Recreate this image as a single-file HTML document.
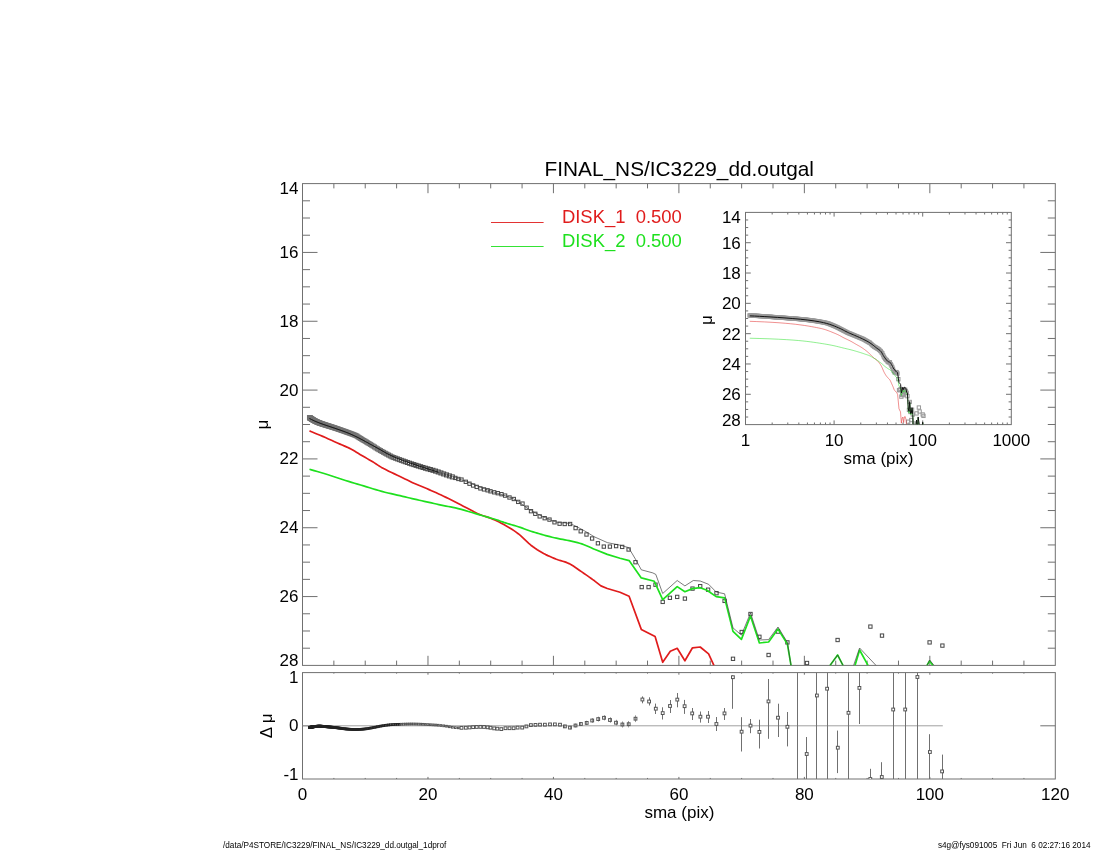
<!DOCTYPE html>
<html><head><meta charset="utf-8"><style>
html,body{margin:0;padding:0;background:#fff;width:1100px;height:850px;overflow:hidden}
svg{position:absolute;left:0;top:0;font-family:"Liberation Sans", sans-serif;will-change:transform}
</style></head><body>
<svg width="1100" height="850" viewBox="0 0 1100 850">
<rect width="1100" height="850" fill="#fff"/>
<rect x="302.5" y="183.6" width="752.80" height="481.80" fill="none" stroke="#707070" stroke-width="1"/>
<line x1="333.87" y1="665.40" x2="333.87" y2="660.60" stroke="#707070" stroke-width="1"/>
<line x1="333.87" y1="183.60" x2="333.87" y2="188.40" stroke="#707070" stroke-width="1"/>
<line x1="365.23" y1="665.40" x2="365.23" y2="660.60" stroke="#707070" stroke-width="1"/>
<line x1="365.23" y1="183.60" x2="365.23" y2="188.40" stroke="#707070" stroke-width="1"/>
<line x1="396.60" y1="665.40" x2="396.60" y2="660.60" stroke="#707070" stroke-width="1"/>
<line x1="396.60" y1="183.60" x2="396.60" y2="188.40" stroke="#707070" stroke-width="1"/>
<line x1="427.97" y1="665.40" x2="427.97" y2="655.80" stroke="#707070" stroke-width="1"/>
<line x1="427.97" y1="183.60" x2="427.97" y2="193.20" stroke="#707070" stroke-width="1"/>
<line x1="459.33" y1="665.40" x2="459.33" y2="660.60" stroke="#707070" stroke-width="1"/>
<line x1="459.33" y1="183.60" x2="459.33" y2="188.40" stroke="#707070" stroke-width="1"/>
<line x1="490.70" y1="665.40" x2="490.70" y2="660.60" stroke="#707070" stroke-width="1"/>
<line x1="490.70" y1="183.60" x2="490.70" y2="188.40" stroke="#707070" stroke-width="1"/>
<line x1="522.07" y1="665.40" x2="522.07" y2="660.60" stroke="#707070" stroke-width="1"/>
<line x1="522.07" y1="183.60" x2="522.07" y2="188.40" stroke="#707070" stroke-width="1"/>
<line x1="553.43" y1="665.40" x2="553.43" y2="655.80" stroke="#707070" stroke-width="1"/>
<line x1="553.43" y1="183.60" x2="553.43" y2="193.20" stroke="#707070" stroke-width="1"/>
<line x1="584.80" y1="665.40" x2="584.80" y2="660.60" stroke="#707070" stroke-width="1"/>
<line x1="584.80" y1="183.60" x2="584.80" y2="188.40" stroke="#707070" stroke-width="1"/>
<line x1="616.17" y1="665.40" x2="616.17" y2="660.60" stroke="#707070" stroke-width="1"/>
<line x1="616.17" y1="183.60" x2="616.17" y2="188.40" stroke="#707070" stroke-width="1"/>
<line x1="647.53" y1="665.40" x2="647.53" y2="660.60" stroke="#707070" stroke-width="1"/>
<line x1="647.53" y1="183.60" x2="647.53" y2="188.40" stroke="#707070" stroke-width="1"/>
<line x1="678.90" y1="665.40" x2="678.90" y2="655.80" stroke="#707070" stroke-width="1"/>
<line x1="678.90" y1="183.60" x2="678.90" y2="193.20" stroke="#707070" stroke-width="1"/>
<line x1="710.27" y1="665.40" x2="710.27" y2="660.60" stroke="#707070" stroke-width="1"/>
<line x1="710.27" y1="183.60" x2="710.27" y2="188.40" stroke="#707070" stroke-width="1"/>
<line x1="741.63" y1="665.40" x2="741.63" y2="660.60" stroke="#707070" stroke-width="1"/>
<line x1="741.63" y1="183.60" x2="741.63" y2="188.40" stroke="#707070" stroke-width="1"/>
<line x1="773.00" y1="665.40" x2="773.00" y2="660.60" stroke="#707070" stroke-width="1"/>
<line x1="773.00" y1="183.60" x2="773.00" y2="188.40" stroke="#707070" stroke-width="1"/>
<line x1="804.37" y1="665.40" x2="804.37" y2="655.80" stroke="#707070" stroke-width="1"/>
<line x1="804.37" y1="183.60" x2="804.37" y2="193.20" stroke="#707070" stroke-width="1"/>
<line x1="835.73" y1="665.40" x2="835.73" y2="660.60" stroke="#707070" stroke-width="1"/>
<line x1="835.73" y1="183.60" x2="835.73" y2="188.40" stroke="#707070" stroke-width="1"/>
<line x1="867.10" y1="665.40" x2="867.10" y2="660.60" stroke="#707070" stroke-width="1"/>
<line x1="867.10" y1="183.60" x2="867.10" y2="188.40" stroke="#707070" stroke-width="1"/>
<line x1="898.47" y1="665.40" x2="898.47" y2="660.60" stroke="#707070" stroke-width="1"/>
<line x1="898.47" y1="183.60" x2="898.47" y2="188.40" stroke="#707070" stroke-width="1"/>
<line x1="929.83" y1="665.40" x2="929.83" y2="655.80" stroke="#707070" stroke-width="1"/>
<line x1="929.83" y1="183.60" x2="929.83" y2="193.20" stroke="#707070" stroke-width="1"/>
<line x1="961.20" y1="665.40" x2="961.20" y2="660.60" stroke="#707070" stroke-width="1"/>
<line x1="961.20" y1="183.60" x2="961.20" y2="188.40" stroke="#707070" stroke-width="1"/>
<line x1="992.57" y1="665.40" x2="992.57" y2="660.60" stroke="#707070" stroke-width="1"/>
<line x1="992.57" y1="183.60" x2="992.57" y2="188.40" stroke="#707070" stroke-width="1"/>
<line x1="1023.93" y1="665.40" x2="1023.93" y2="660.60" stroke="#707070" stroke-width="1"/>
<line x1="1023.93" y1="183.60" x2="1023.93" y2="188.40" stroke="#707070" stroke-width="1"/>
<line x1="302.50" y1="200.81" x2="310.00" y2="200.81" stroke="#707070" stroke-width="1"/>
<line x1="1055.30" y1="200.81" x2="1047.80" y2="200.81" stroke="#707070" stroke-width="1"/>
<line x1="302.50" y1="218.01" x2="310.00" y2="218.01" stroke="#707070" stroke-width="1"/>
<line x1="1055.30" y1="218.01" x2="1047.80" y2="218.01" stroke="#707070" stroke-width="1"/>
<line x1="302.50" y1="235.22" x2="310.00" y2="235.22" stroke="#707070" stroke-width="1"/>
<line x1="1055.30" y1="235.22" x2="1047.80" y2="235.22" stroke="#707070" stroke-width="1"/>
<line x1="302.50" y1="252.43" x2="317.50" y2="252.43" stroke="#707070" stroke-width="1"/>
<line x1="1055.30" y1="252.43" x2="1040.30" y2="252.43" stroke="#707070" stroke-width="1"/>
<line x1="302.50" y1="269.64" x2="310.00" y2="269.64" stroke="#707070" stroke-width="1"/>
<line x1="1055.30" y1="269.64" x2="1047.80" y2="269.64" stroke="#707070" stroke-width="1"/>
<line x1="302.50" y1="286.84" x2="310.00" y2="286.84" stroke="#707070" stroke-width="1"/>
<line x1="1055.30" y1="286.84" x2="1047.80" y2="286.84" stroke="#707070" stroke-width="1"/>
<line x1="302.50" y1="304.05" x2="310.00" y2="304.05" stroke="#707070" stroke-width="1"/>
<line x1="1055.30" y1="304.05" x2="1047.80" y2="304.05" stroke="#707070" stroke-width="1"/>
<line x1="302.50" y1="321.26" x2="317.50" y2="321.26" stroke="#707070" stroke-width="1"/>
<line x1="1055.30" y1="321.26" x2="1040.30" y2="321.26" stroke="#707070" stroke-width="1"/>
<line x1="302.50" y1="338.46" x2="310.00" y2="338.46" stroke="#707070" stroke-width="1"/>
<line x1="1055.30" y1="338.46" x2="1047.80" y2="338.46" stroke="#707070" stroke-width="1"/>
<line x1="302.50" y1="355.67" x2="310.00" y2="355.67" stroke="#707070" stroke-width="1"/>
<line x1="1055.30" y1="355.67" x2="1047.80" y2="355.67" stroke="#707070" stroke-width="1"/>
<line x1="302.50" y1="372.88" x2="310.00" y2="372.88" stroke="#707070" stroke-width="1"/>
<line x1="1055.30" y1="372.88" x2="1047.80" y2="372.88" stroke="#707070" stroke-width="1"/>
<line x1="302.50" y1="390.09" x2="317.50" y2="390.09" stroke="#707070" stroke-width="1"/>
<line x1="1055.30" y1="390.09" x2="1040.30" y2="390.09" stroke="#707070" stroke-width="1"/>
<line x1="302.50" y1="407.29" x2="310.00" y2="407.29" stroke="#707070" stroke-width="1"/>
<line x1="1055.30" y1="407.29" x2="1047.80" y2="407.29" stroke="#707070" stroke-width="1"/>
<line x1="302.50" y1="424.50" x2="310.00" y2="424.50" stroke="#707070" stroke-width="1"/>
<line x1="1055.30" y1="424.50" x2="1047.80" y2="424.50" stroke="#707070" stroke-width="1"/>
<line x1="302.50" y1="441.71" x2="310.00" y2="441.71" stroke="#707070" stroke-width="1"/>
<line x1="1055.30" y1="441.71" x2="1047.80" y2="441.71" stroke="#707070" stroke-width="1"/>
<line x1="302.50" y1="458.91" x2="317.50" y2="458.91" stroke="#707070" stroke-width="1"/>
<line x1="1055.30" y1="458.91" x2="1040.30" y2="458.91" stroke="#707070" stroke-width="1"/>
<line x1="302.50" y1="476.12" x2="310.00" y2="476.12" stroke="#707070" stroke-width="1"/>
<line x1="1055.30" y1="476.12" x2="1047.80" y2="476.12" stroke="#707070" stroke-width="1"/>
<line x1="302.50" y1="493.33" x2="310.00" y2="493.33" stroke="#707070" stroke-width="1"/>
<line x1="1055.30" y1="493.33" x2="1047.80" y2="493.33" stroke="#707070" stroke-width="1"/>
<line x1="302.50" y1="510.54" x2="310.00" y2="510.54" stroke="#707070" stroke-width="1"/>
<line x1="1055.30" y1="510.54" x2="1047.80" y2="510.54" stroke="#707070" stroke-width="1"/>
<line x1="302.50" y1="527.74" x2="317.50" y2="527.74" stroke="#707070" stroke-width="1"/>
<line x1="1055.30" y1="527.74" x2="1040.30" y2="527.74" stroke="#707070" stroke-width="1"/>
<line x1="302.50" y1="544.95" x2="310.00" y2="544.95" stroke="#707070" stroke-width="1"/>
<line x1="1055.30" y1="544.95" x2="1047.80" y2="544.95" stroke="#707070" stroke-width="1"/>
<line x1="302.50" y1="562.16" x2="310.00" y2="562.16" stroke="#707070" stroke-width="1"/>
<line x1="1055.30" y1="562.16" x2="1047.80" y2="562.16" stroke="#707070" stroke-width="1"/>
<line x1="302.50" y1="579.36" x2="310.00" y2="579.36" stroke="#707070" stroke-width="1"/>
<line x1="1055.30" y1="579.36" x2="1047.80" y2="579.36" stroke="#707070" stroke-width="1"/>
<line x1="302.50" y1="596.57" x2="317.50" y2="596.57" stroke="#707070" stroke-width="1"/>
<line x1="1055.30" y1="596.57" x2="1040.30" y2="596.57" stroke="#707070" stroke-width="1"/>
<line x1="302.50" y1="613.78" x2="310.00" y2="613.78" stroke="#707070" stroke-width="1"/>
<line x1="1055.30" y1="613.78" x2="1047.80" y2="613.78" stroke="#707070" stroke-width="1"/>
<line x1="302.50" y1="630.99" x2="310.00" y2="630.99" stroke="#707070" stroke-width="1"/>
<line x1="1055.30" y1="630.99" x2="1047.80" y2="630.99" stroke="#707070" stroke-width="1"/>
<line x1="302.50" y1="648.19" x2="310.00" y2="648.19" stroke="#707070" stroke-width="1"/>
<line x1="1055.30" y1="648.19" x2="1047.80" y2="648.19" stroke="#707070" stroke-width="1"/>
<text x="298.50" y="193.90" font-size="17" text-anchor="end" fill="#000" >14</text>
<text x="298.50" y="257.93" font-size="17" text-anchor="end" fill="#000" >16</text>
<text x="298.50" y="326.76" font-size="17" text-anchor="end" fill="#000" >18</text>
<text x="298.50" y="395.59" font-size="17" text-anchor="end" fill="#000" >20</text>
<text x="298.50" y="464.41" font-size="17" text-anchor="end" fill="#000" >22</text>
<text x="298.50" y="533.24" font-size="17" text-anchor="end" fill="#000" >24</text>
<text x="298.50" y="602.07" font-size="17" text-anchor="end" fill="#000" >26</text>
<text x="298.50" y="665.90" font-size="17" text-anchor="end" fill="#000" >28</text>
<rect x="302.5" y="672.6" width="752.80" height="106.40" fill="none" stroke="#707070" stroke-width="1"/>
<line x1="333.87" y1="779.00" x2="333.87" y2="777.95" stroke="#707070" stroke-width="1"/>
<line x1="333.87" y1="672.60" x2="333.87" y2="673.65" stroke="#707070" stroke-width="1"/>
<line x1="365.23" y1="779.00" x2="365.23" y2="777.95" stroke="#707070" stroke-width="1"/>
<line x1="365.23" y1="672.60" x2="365.23" y2="673.65" stroke="#707070" stroke-width="1"/>
<line x1="396.60" y1="779.00" x2="396.60" y2="777.95" stroke="#707070" stroke-width="1"/>
<line x1="396.60" y1="672.60" x2="396.60" y2="673.65" stroke="#707070" stroke-width="1"/>
<line x1="427.97" y1="779.00" x2="427.97" y2="776.90" stroke="#707070" stroke-width="1"/>
<line x1="427.97" y1="672.60" x2="427.97" y2="674.70" stroke="#707070" stroke-width="1"/>
<line x1="459.33" y1="779.00" x2="459.33" y2="777.95" stroke="#707070" stroke-width="1"/>
<line x1="459.33" y1="672.60" x2="459.33" y2="673.65" stroke="#707070" stroke-width="1"/>
<line x1="490.70" y1="779.00" x2="490.70" y2="777.95" stroke="#707070" stroke-width="1"/>
<line x1="490.70" y1="672.60" x2="490.70" y2="673.65" stroke="#707070" stroke-width="1"/>
<line x1="522.07" y1="779.00" x2="522.07" y2="777.95" stroke="#707070" stroke-width="1"/>
<line x1="522.07" y1="672.60" x2="522.07" y2="673.65" stroke="#707070" stroke-width="1"/>
<line x1="553.43" y1="779.00" x2="553.43" y2="776.90" stroke="#707070" stroke-width="1"/>
<line x1="553.43" y1="672.60" x2="553.43" y2="674.70" stroke="#707070" stroke-width="1"/>
<line x1="584.80" y1="779.00" x2="584.80" y2="777.95" stroke="#707070" stroke-width="1"/>
<line x1="584.80" y1="672.60" x2="584.80" y2="673.65" stroke="#707070" stroke-width="1"/>
<line x1="616.17" y1="779.00" x2="616.17" y2="777.95" stroke="#707070" stroke-width="1"/>
<line x1="616.17" y1="672.60" x2="616.17" y2="673.65" stroke="#707070" stroke-width="1"/>
<line x1="647.53" y1="779.00" x2="647.53" y2="777.95" stroke="#707070" stroke-width="1"/>
<line x1="647.53" y1="672.60" x2="647.53" y2="673.65" stroke="#707070" stroke-width="1"/>
<line x1="678.90" y1="779.00" x2="678.90" y2="776.90" stroke="#707070" stroke-width="1"/>
<line x1="678.90" y1="672.60" x2="678.90" y2="674.70" stroke="#707070" stroke-width="1"/>
<line x1="710.27" y1="779.00" x2="710.27" y2="777.95" stroke="#707070" stroke-width="1"/>
<line x1="710.27" y1="672.60" x2="710.27" y2="673.65" stroke="#707070" stroke-width="1"/>
<line x1="741.63" y1="779.00" x2="741.63" y2="777.95" stroke="#707070" stroke-width="1"/>
<line x1="741.63" y1="672.60" x2="741.63" y2="673.65" stroke="#707070" stroke-width="1"/>
<line x1="773.00" y1="779.00" x2="773.00" y2="777.95" stroke="#707070" stroke-width="1"/>
<line x1="773.00" y1="672.60" x2="773.00" y2="673.65" stroke="#707070" stroke-width="1"/>
<line x1="804.37" y1="779.00" x2="804.37" y2="776.90" stroke="#707070" stroke-width="1"/>
<line x1="804.37" y1="672.60" x2="804.37" y2="674.70" stroke="#707070" stroke-width="1"/>
<line x1="835.73" y1="779.00" x2="835.73" y2="777.95" stroke="#707070" stroke-width="1"/>
<line x1="835.73" y1="672.60" x2="835.73" y2="673.65" stroke="#707070" stroke-width="1"/>
<line x1="867.10" y1="779.00" x2="867.10" y2="777.95" stroke="#707070" stroke-width="1"/>
<line x1="867.10" y1="672.60" x2="867.10" y2="673.65" stroke="#707070" stroke-width="1"/>
<line x1="898.47" y1="779.00" x2="898.47" y2="777.95" stroke="#707070" stroke-width="1"/>
<line x1="898.47" y1="672.60" x2="898.47" y2="673.65" stroke="#707070" stroke-width="1"/>
<line x1="929.83" y1="779.00" x2="929.83" y2="776.90" stroke="#707070" stroke-width="1"/>
<line x1="929.83" y1="672.60" x2="929.83" y2="674.70" stroke="#707070" stroke-width="1"/>
<line x1="961.20" y1="779.00" x2="961.20" y2="777.95" stroke="#707070" stroke-width="1"/>
<line x1="961.20" y1="672.60" x2="961.20" y2="673.65" stroke="#707070" stroke-width="1"/>
<line x1="992.57" y1="779.00" x2="992.57" y2="777.95" stroke="#707070" stroke-width="1"/>
<line x1="992.57" y1="672.60" x2="992.57" y2="673.65" stroke="#707070" stroke-width="1"/>
<line x1="1023.93" y1="779.00" x2="1023.93" y2="777.95" stroke="#707070" stroke-width="1"/>
<line x1="1023.93" y1="672.60" x2="1023.93" y2="673.65" stroke="#707070" stroke-width="1"/>
<line x1="302.50" y1="725.80" x2="317.50" y2="725.80" stroke="#707070" stroke-width="1"/>
<line x1="1055.30" y1="725.80" x2="1040.30" y2="725.80" stroke="#707070" stroke-width="1"/>
<text x="298.50" y="682.94" font-size="17" text-anchor="end" fill="#000" >1</text>
<text x="298.50" y="731.30" font-size="17" text-anchor="end" fill="#000" >0</text>
<text x="298.50" y="779.66" font-size="17" text-anchor="end" fill="#000" >-1</text>
<text x="302.50" y="800.20" font-size="17" text-anchor="middle" fill="#000" >0</text>
<text x="427.97" y="800.20" font-size="17" text-anchor="middle" fill="#000" >20</text>
<text x="553.43" y="800.20" font-size="17" text-anchor="middle" fill="#000" >40</text>
<text x="678.90" y="800.20" font-size="17" text-anchor="middle" fill="#000" >60</text>
<text x="804.37" y="800.20" font-size="17" text-anchor="middle" fill="#000" >80</text>
<text x="929.83" y="800.20" font-size="17" text-anchor="middle" fill="#000" >100</text>
<text x="1055.30" y="800.20" font-size="17" text-anchor="middle" fill="#000" >120</text>
<text x="679.40" y="818.30" font-size="17" text-anchor="middle" fill="#000" >sma (pix)</text>
<text x="679.30" y="175.50" font-size="20.8" text-anchor="middle" fill="#000" >FINAL_NS/IC3229_dd.outgal</text>
<text x="223" y="848" font-size="8.2" fill="#000" xml:space="preserve">/data/P4STORE/IC3229/FINAL_NS/IC3229_dd.outgal_1dprof</text>
<text x="1090.5" y="848" font-size="8.2" text-anchor="end" fill="#000" xml:space="preserve">s4g@fys091005  Fri Jun  6 02:27:16 2014</text>
<text x="267.6" y="424.5" font-size="17" text-anchor="middle" transform="rotate(-90 267.6 424.5)">&#956;</text>
<text x="272" y="725.8" font-size="17" text-anchor="middle" transform="rotate(-90 272 725.8)" xml:space="preserve">&#916; &#956;</text>
<line x1="491.00" y1="222.50" x2="543.60" y2="222.50" stroke="#e01c1c" stroke-width="0.9"/>
<line x1="491.00" y1="246.50" x2="543.60" y2="246.50" stroke="#1ee01e" stroke-width="0.9"/>
<text x="561.9" y="222.6" font-size="18.45" fill="#e01c1c" xml:space="preserve">DISK_1  0.500</text>
<text x="561.9" y="246.6" font-size="18.45" fill="#1ee01e" xml:space="preserve">DISK_2  0.500</text>
<rect x="745.5" y="212.4" width="265.80" height="212.20" fill="#fff" stroke="#707070" stroke-width="1"/>
<line x1="772.17" y1="424.60" x2="772.17" y2="422.50" stroke="#707070" stroke-width="1"/>
<line x1="772.17" y1="212.40" x2="772.17" y2="214.50" stroke="#707070" stroke-width="1"/>
<line x1="787.77" y1="424.60" x2="787.77" y2="422.50" stroke="#707070" stroke-width="1"/>
<line x1="787.77" y1="212.40" x2="787.77" y2="214.50" stroke="#707070" stroke-width="1"/>
<line x1="798.84" y1="424.60" x2="798.84" y2="422.50" stroke="#707070" stroke-width="1"/>
<line x1="798.84" y1="212.40" x2="798.84" y2="214.50" stroke="#707070" stroke-width="1"/>
<line x1="807.43" y1="424.60" x2="807.43" y2="422.50" stroke="#707070" stroke-width="1"/>
<line x1="807.43" y1="212.40" x2="807.43" y2="214.50" stroke="#707070" stroke-width="1"/>
<line x1="814.44" y1="424.60" x2="814.44" y2="422.50" stroke="#707070" stroke-width="1"/>
<line x1="814.44" y1="212.40" x2="814.44" y2="214.50" stroke="#707070" stroke-width="1"/>
<line x1="820.38" y1="424.60" x2="820.38" y2="422.50" stroke="#707070" stroke-width="1"/>
<line x1="820.38" y1="212.40" x2="820.38" y2="214.50" stroke="#707070" stroke-width="1"/>
<line x1="825.51" y1="424.60" x2="825.51" y2="422.50" stroke="#707070" stroke-width="1"/>
<line x1="825.51" y1="212.40" x2="825.51" y2="214.50" stroke="#707070" stroke-width="1"/>
<line x1="830.05" y1="424.60" x2="830.05" y2="422.50" stroke="#707070" stroke-width="1"/>
<line x1="830.05" y1="212.40" x2="830.05" y2="214.50" stroke="#707070" stroke-width="1"/>
<line x1="834.10" y1="424.60" x2="834.10" y2="420.40" stroke="#707070" stroke-width="1"/>
<line x1="834.10" y1="212.40" x2="834.10" y2="216.60" stroke="#707070" stroke-width="1"/>
<line x1="860.77" y1="424.60" x2="860.77" y2="422.50" stroke="#707070" stroke-width="1"/>
<line x1="860.77" y1="212.40" x2="860.77" y2="214.50" stroke="#707070" stroke-width="1"/>
<line x1="876.37" y1="424.60" x2="876.37" y2="422.50" stroke="#707070" stroke-width="1"/>
<line x1="876.37" y1="212.40" x2="876.37" y2="214.50" stroke="#707070" stroke-width="1"/>
<line x1="887.44" y1="424.60" x2="887.44" y2="422.50" stroke="#707070" stroke-width="1"/>
<line x1="887.44" y1="212.40" x2="887.44" y2="214.50" stroke="#707070" stroke-width="1"/>
<line x1="896.03" y1="424.60" x2="896.03" y2="422.50" stroke="#707070" stroke-width="1"/>
<line x1="896.03" y1="212.40" x2="896.03" y2="214.50" stroke="#707070" stroke-width="1"/>
<line x1="903.04" y1="424.60" x2="903.04" y2="422.50" stroke="#707070" stroke-width="1"/>
<line x1="903.04" y1="212.40" x2="903.04" y2="214.50" stroke="#707070" stroke-width="1"/>
<line x1="908.98" y1="424.60" x2="908.98" y2="422.50" stroke="#707070" stroke-width="1"/>
<line x1="908.98" y1="212.40" x2="908.98" y2="214.50" stroke="#707070" stroke-width="1"/>
<line x1="914.11" y1="424.60" x2="914.11" y2="422.50" stroke="#707070" stroke-width="1"/>
<line x1="914.11" y1="212.40" x2="914.11" y2="214.50" stroke="#707070" stroke-width="1"/>
<line x1="918.65" y1="424.60" x2="918.65" y2="422.50" stroke="#707070" stroke-width="1"/>
<line x1="918.65" y1="212.40" x2="918.65" y2="214.50" stroke="#707070" stroke-width="1"/>
<line x1="922.70" y1="424.60" x2="922.70" y2="420.40" stroke="#707070" stroke-width="1"/>
<line x1="922.70" y1="212.40" x2="922.70" y2="216.60" stroke="#707070" stroke-width="1"/>
<line x1="949.37" y1="424.60" x2="949.37" y2="422.50" stroke="#707070" stroke-width="1"/>
<line x1="949.37" y1="212.40" x2="949.37" y2="214.50" stroke="#707070" stroke-width="1"/>
<line x1="964.97" y1="424.60" x2="964.97" y2="422.50" stroke="#707070" stroke-width="1"/>
<line x1="964.97" y1="212.40" x2="964.97" y2="214.50" stroke="#707070" stroke-width="1"/>
<line x1="976.04" y1="424.60" x2="976.04" y2="422.50" stroke="#707070" stroke-width="1"/>
<line x1="976.04" y1="212.40" x2="976.04" y2="214.50" stroke="#707070" stroke-width="1"/>
<line x1="984.63" y1="424.60" x2="984.63" y2="422.50" stroke="#707070" stroke-width="1"/>
<line x1="984.63" y1="212.40" x2="984.63" y2="214.50" stroke="#707070" stroke-width="1"/>
<line x1="991.64" y1="424.60" x2="991.64" y2="422.50" stroke="#707070" stroke-width="1"/>
<line x1="991.64" y1="212.40" x2="991.64" y2="214.50" stroke="#707070" stroke-width="1"/>
<line x1="997.58" y1="424.60" x2="997.58" y2="422.50" stroke="#707070" stroke-width="1"/>
<line x1="997.58" y1="212.40" x2="997.58" y2="214.50" stroke="#707070" stroke-width="1"/>
<line x1="1002.71" y1="424.60" x2="1002.71" y2="422.50" stroke="#707070" stroke-width="1"/>
<line x1="1002.71" y1="212.40" x2="1002.71" y2="214.50" stroke="#707070" stroke-width="1"/>
<line x1="1007.25" y1="424.60" x2="1007.25" y2="422.50" stroke="#707070" stroke-width="1"/>
<line x1="1007.25" y1="212.40" x2="1007.25" y2="214.50" stroke="#707070" stroke-width="1"/>
<line x1="745.50" y1="219.98" x2="748.20" y2="219.98" stroke="#707070" stroke-width="1"/>
<line x1="1011.30" y1="219.98" x2="1008.60" y2="219.98" stroke="#707070" stroke-width="1"/>
<line x1="745.50" y1="227.56" x2="748.20" y2="227.56" stroke="#707070" stroke-width="1"/>
<line x1="1011.30" y1="227.56" x2="1008.60" y2="227.56" stroke="#707070" stroke-width="1"/>
<line x1="745.50" y1="235.14" x2="748.20" y2="235.14" stroke="#707070" stroke-width="1"/>
<line x1="1011.30" y1="235.14" x2="1008.60" y2="235.14" stroke="#707070" stroke-width="1"/>
<line x1="745.50" y1="242.71" x2="750.80" y2="242.71" stroke="#707070" stroke-width="1"/>
<line x1="1011.30" y1="242.71" x2="1006.00" y2="242.71" stroke="#707070" stroke-width="1"/>
<line x1="745.50" y1="250.29" x2="748.20" y2="250.29" stroke="#707070" stroke-width="1"/>
<line x1="1011.30" y1="250.29" x2="1008.60" y2="250.29" stroke="#707070" stroke-width="1"/>
<line x1="745.50" y1="257.87" x2="748.20" y2="257.87" stroke="#707070" stroke-width="1"/>
<line x1="1011.30" y1="257.87" x2="1008.60" y2="257.87" stroke="#707070" stroke-width="1"/>
<line x1="745.50" y1="265.45" x2="748.20" y2="265.45" stroke="#707070" stroke-width="1"/>
<line x1="1011.30" y1="265.45" x2="1008.60" y2="265.45" stroke="#707070" stroke-width="1"/>
<line x1="745.50" y1="273.03" x2="750.80" y2="273.03" stroke="#707070" stroke-width="1"/>
<line x1="1011.30" y1="273.03" x2="1006.00" y2="273.03" stroke="#707070" stroke-width="1"/>
<line x1="745.50" y1="280.61" x2="748.20" y2="280.61" stroke="#707070" stroke-width="1"/>
<line x1="1011.30" y1="280.61" x2="1008.60" y2="280.61" stroke="#707070" stroke-width="1"/>
<line x1="745.50" y1="288.19" x2="748.20" y2="288.19" stroke="#707070" stroke-width="1"/>
<line x1="1011.30" y1="288.19" x2="1008.60" y2="288.19" stroke="#707070" stroke-width="1"/>
<line x1="745.50" y1="295.76" x2="748.20" y2="295.76" stroke="#707070" stroke-width="1"/>
<line x1="1011.30" y1="295.76" x2="1008.60" y2="295.76" stroke="#707070" stroke-width="1"/>
<line x1="745.50" y1="303.34" x2="750.80" y2="303.34" stroke="#707070" stroke-width="1"/>
<line x1="1011.30" y1="303.34" x2="1006.00" y2="303.34" stroke="#707070" stroke-width="1"/>
<line x1="745.50" y1="310.92" x2="748.20" y2="310.92" stroke="#707070" stroke-width="1"/>
<line x1="1011.30" y1="310.92" x2="1008.60" y2="310.92" stroke="#707070" stroke-width="1"/>
<line x1="745.50" y1="318.50" x2="748.20" y2="318.50" stroke="#707070" stroke-width="1"/>
<line x1="1011.30" y1="318.50" x2="1008.60" y2="318.50" stroke="#707070" stroke-width="1"/>
<line x1="745.50" y1="326.08" x2="748.20" y2="326.08" stroke="#707070" stroke-width="1"/>
<line x1="1011.30" y1="326.08" x2="1008.60" y2="326.08" stroke="#707070" stroke-width="1"/>
<line x1="745.50" y1="333.66" x2="750.80" y2="333.66" stroke="#707070" stroke-width="1"/>
<line x1="1011.30" y1="333.66" x2="1006.00" y2="333.66" stroke="#707070" stroke-width="1"/>
<line x1="745.50" y1="341.24" x2="748.20" y2="341.24" stroke="#707070" stroke-width="1"/>
<line x1="1011.30" y1="341.24" x2="1008.60" y2="341.24" stroke="#707070" stroke-width="1"/>
<line x1="745.50" y1="348.81" x2="748.20" y2="348.81" stroke="#707070" stroke-width="1"/>
<line x1="1011.30" y1="348.81" x2="1008.60" y2="348.81" stroke="#707070" stroke-width="1"/>
<line x1="745.50" y1="356.39" x2="748.20" y2="356.39" stroke="#707070" stroke-width="1"/>
<line x1="1011.30" y1="356.39" x2="1008.60" y2="356.39" stroke="#707070" stroke-width="1"/>
<line x1="745.50" y1="363.97" x2="750.80" y2="363.97" stroke="#707070" stroke-width="1"/>
<line x1="1011.30" y1="363.97" x2="1006.00" y2="363.97" stroke="#707070" stroke-width="1"/>
<line x1="745.50" y1="371.55" x2="748.20" y2="371.55" stroke="#707070" stroke-width="1"/>
<line x1="1011.30" y1="371.55" x2="1008.60" y2="371.55" stroke="#707070" stroke-width="1"/>
<line x1="745.50" y1="379.13" x2="748.20" y2="379.13" stroke="#707070" stroke-width="1"/>
<line x1="1011.30" y1="379.13" x2="1008.60" y2="379.13" stroke="#707070" stroke-width="1"/>
<line x1="745.50" y1="386.71" x2="748.20" y2="386.71" stroke="#707070" stroke-width="1"/>
<line x1="1011.30" y1="386.71" x2="1008.60" y2="386.71" stroke="#707070" stroke-width="1"/>
<line x1="745.50" y1="394.29" x2="750.80" y2="394.29" stroke="#707070" stroke-width="1"/>
<line x1="1011.30" y1="394.29" x2="1006.00" y2="394.29" stroke="#707070" stroke-width="1"/>
<line x1="745.50" y1="401.86" x2="748.20" y2="401.86" stroke="#707070" stroke-width="1"/>
<line x1="1011.30" y1="401.86" x2="1008.60" y2="401.86" stroke="#707070" stroke-width="1"/>
<line x1="745.50" y1="409.44" x2="748.20" y2="409.44" stroke="#707070" stroke-width="1"/>
<line x1="1011.30" y1="409.44" x2="1008.60" y2="409.44" stroke="#707070" stroke-width="1"/>
<line x1="745.50" y1="417.02" x2="748.20" y2="417.02" stroke="#707070" stroke-width="1"/>
<line x1="1011.30" y1="417.02" x2="1008.60" y2="417.02" stroke="#707070" stroke-width="1"/>
<text x="740.80" y="222.50" font-size="17" text-anchor="end" fill="#000" >14</text>
<text x="740.80" y="248.81" font-size="17" text-anchor="end" fill="#000" >16</text>
<text x="740.80" y="279.13" font-size="17" text-anchor="end" fill="#000" >18</text>
<text x="740.80" y="309.44" font-size="17" text-anchor="end" fill="#000" >20</text>
<text x="740.80" y="339.76" font-size="17" text-anchor="end" fill="#000" >22</text>
<text x="740.80" y="370.07" font-size="17" text-anchor="end" fill="#000" >24</text>
<text x="740.80" y="400.39" font-size="17" text-anchor="end" fill="#000" >26</text>
<text x="740.80" y="425.70" font-size="17" text-anchor="end" fill="#000" >28</text>
<text x="745.50" y="445.60" font-size="17" text-anchor="middle" fill="#000" >1</text>
<text x="834.10" y="445.60" font-size="17" text-anchor="middle" fill="#000" >10</text>
<text x="922.70" y="445.60" font-size="17" text-anchor="middle" fill="#000" >100</text>
<text x="1011.30" y="445.60" font-size="17" text-anchor="middle" fill="#000" >1000</text>
<text x="878.50" y="463.50" font-size="17" text-anchor="middle" fill="#000" >sma (pix)</text>
<text x="712" y="320" font-size="17" text-anchor="middle" transform="rotate(-90 712 320)">&#956;</text>
<clipPath id="cm"><rect x="302.5" y="183.6" width="752.8" height="481.79999999999995"/></clipPath>
<g clip-path="url(#cm)">
<rect x="307.46" y="415.58" width="4.0" height="4.0" fill="none" stroke="#727272" stroke-width="1"/>
<rect x="307.60" y="415.66" width="4.0" height="4.0" fill="none" stroke="#727272" stroke-width="1"/>
<rect x="307.74" y="415.75" width="4.0" height="4.0" fill="none" stroke="#727272" stroke-width="1"/>
<rect x="307.89" y="415.84" width="4.0" height="4.0" fill="none" stroke="#727272" stroke-width="1"/>
<rect x="308.03" y="415.93" width="4.0" height="4.0" fill="none" stroke="#727272" stroke-width="1"/>
<rect x="308.18" y="416.02" width="4.0" height="4.0" fill="none" stroke="#727272" stroke-width="1"/>
<rect x="308.34" y="416.12" width="4.0" height="4.0" fill="none" stroke="#727272" stroke-width="1"/>
<rect x="308.49" y="416.23" width="4.0" height="4.0" fill="none" stroke="#727272" stroke-width="1"/>
<rect x="308.65" y="416.33" width="4.0" height="4.0" fill="none" stroke="#727272" stroke-width="1"/>
<rect x="308.82" y="416.44" width="4.0" height="4.0" fill="none" stroke="#727272" stroke-width="1"/>
<rect x="308.98" y="416.55" width="4.0" height="4.0" fill="none" stroke="#727272" stroke-width="1"/>
<rect x="309.15" y="416.66" width="4.0" height="4.0" fill="none" stroke="#727272" stroke-width="1"/>
<rect x="309.33" y="416.78" width="4.0" height="4.0" fill="none" stroke="#727272" stroke-width="1"/>
<rect x="309.50" y="416.89" width="4.0" height="4.0" fill="none" stroke="#727272" stroke-width="1"/>
<rect x="309.68" y="417.01" width="4.0" height="4.0" fill="none" stroke="#727272" stroke-width="1"/>
<rect x="309.87" y="417.13" width="4.0" height="4.0" fill="none" stroke="#727272" stroke-width="1"/>
<rect x="310.05" y="417.25" width="4.0" height="4.0" fill="none" stroke="#727272" stroke-width="1"/>
<rect x="310.24" y="417.37" width="4.0" height="4.0" fill="none" stroke="#727272" stroke-width="1"/>
<rect x="310.44" y="417.50" width="4.0" height="4.0" fill="none" stroke="#727272" stroke-width="1"/>
<rect x="310.64" y="417.63" width="4.0" height="4.0" fill="none" stroke="#727272" stroke-width="1"/>
<rect x="310.84" y="417.75" width="4.0" height="4.0" fill="none" stroke="#727272" stroke-width="1"/>
<rect x="311.05" y="417.88" width="4.0" height="4.0" fill="none" stroke="#727272" stroke-width="1"/>
<rect x="311.26" y="418.00" width="4.0" height="4.0" fill="none" stroke="#727272" stroke-width="1"/>
<rect x="311.47" y="418.13" width="4.0" height="4.0" fill="none" stroke="#727272" stroke-width="1"/>
<rect x="311.69" y="418.27" width="4.0" height="4.0" fill="none" stroke="#727272" stroke-width="1"/>
<rect x="311.92" y="418.40" width="4.0" height="4.0" fill="none" stroke="#727272" stroke-width="1"/>
<rect x="312.15" y="418.53" width="4.0" height="4.0" fill="none" stroke="#727272" stroke-width="1"/>
<rect x="312.38" y="418.65" width="4.0" height="4.0" fill="none" stroke="#727272" stroke-width="1"/>
<rect x="312.62" y="418.79" width="4.0" height="4.0" fill="none" stroke="#727272" stroke-width="1"/>
<rect x="312.86" y="418.92" width="4.0" height="4.0" fill="none" stroke="#727272" stroke-width="1"/>
<rect x="313.11" y="419.06" width="4.0" height="4.0" fill="none" stroke="#727272" stroke-width="1"/>
<rect x="313.36" y="419.18" width="4.0" height="4.0" fill="none" stroke="#727272" stroke-width="1"/>
<rect x="313.62" y="419.31" width="4.0" height="4.0" fill="none" stroke="#727272" stroke-width="1"/>
<rect x="313.88" y="419.44" width="4.0" height="4.0" fill="none" stroke="#727272" stroke-width="1"/>
<rect x="314.15" y="419.58" width="4.0" height="4.0" fill="none" stroke="#727272" stroke-width="1"/>
<rect x="314.42" y="419.71" width="4.0" height="4.0" fill="none" stroke="#727272" stroke-width="1"/>
<rect x="314.70" y="419.84" width="4.0" height="4.0" fill="none" stroke="#727272" stroke-width="1"/>
<rect x="314.98" y="419.97" width="4.0" height="4.0" fill="none" stroke="#727272" stroke-width="1"/>
<rect x="315.27" y="420.09" width="4.0" height="4.0" fill="none" stroke="#727272" stroke-width="1"/>
<rect x="315.57" y="420.22" width="4.0" height="4.0" fill="none" stroke="#727272" stroke-width="1"/>
<rect x="315.87" y="420.35" width="4.0" height="4.0" fill="none" stroke="#727272" stroke-width="1"/>
<rect x="316.17" y="420.49" width="4.0" height="4.0" fill="none" stroke="#727272" stroke-width="1"/>
<rect x="316.49" y="420.61" width="4.0" height="4.0" fill="none" stroke="#727272" stroke-width="1"/>
<rect x="316.81" y="420.73" width="4.0" height="4.0" fill="none" stroke="#727272" stroke-width="1"/>
<rect x="317.13" y="420.86" width="4.0" height="4.0" fill="none" stroke="#727272" stroke-width="1"/>
<rect x="317.47" y="420.98" width="4.0" height="4.0" fill="none" stroke="#727272" stroke-width="1"/>
<rect x="317.81" y="421.11" width="4.0" height="4.0" fill="none" stroke="#727272" stroke-width="1"/>
<rect x="318.15" y="421.24" width="4.0" height="4.0" fill="none" stroke="#727272" stroke-width="1"/>
<rect x="318.50" y="421.36" width="4.0" height="4.0" fill="none" stroke="#727272" stroke-width="1"/>
<rect x="318.86" y="421.49" width="4.0" height="4.0" fill="none" stroke="#727272" stroke-width="1"/>
<rect x="319.23" y="421.61" width="4.0" height="4.0" fill="none" stroke="#727272" stroke-width="1"/>
<rect x="319.61" y="421.74" width="4.0" height="4.0" fill="none" stroke="#727272" stroke-width="1"/>
<rect x="319.99" y="421.88" width="4.0" height="4.0" fill="none" stroke="#727272" stroke-width="1"/>
<rect x="320.38" y="422.01" width="4.0" height="4.0" fill="none" stroke="#727272" stroke-width="1"/>
<rect x="320.78" y="422.14" width="4.0" height="4.0" fill="none" stroke="#727272" stroke-width="1"/>
<rect x="321.18" y="422.27" width="4.0" height="4.0" fill="none" stroke="#727272" stroke-width="1"/>
<rect x="321.60" y="422.41" width="4.0" height="4.0" fill="none" stroke="#727272" stroke-width="1"/>
<rect x="322.02" y="422.54" width="4.0" height="4.0" fill="none" stroke="#727272" stroke-width="1"/>
<rect x="322.45" y="422.68" width="4.0" height="4.0" fill="none" stroke="#727272" stroke-width="1"/>
<rect x="322.89" y="422.82" width="4.0" height="4.0" fill="none" stroke="#727272" stroke-width="1"/>
<rect x="323.33" y="422.96" width="4.0" height="4.0" fill="none" stroke="#727272" stroke-width="1"/>
<rect x="323.79" y="423.11" width="4.0" height="4.0" fill="none" stroke="#727272" stroke-width="1"/>
<rect x="324.26" y="423.26" width="4.0" height="4.0" fill="none" stroke="#727272" stroke-width="1"/>
<rect x="324.73" y="423.41" width="4.0" height="4.0" fill="none" stroke="#727272" stroke-width="1"/>
<rect x="325.22" y="423.56" width="4.0" height="4.0" fill="none" stroke="#727272" stroke-width="1"/>
<rect x="325.71" y="423.71" width="4.0" height="4.0" fill="none" stroke="#727272" stroke-width="1"/>
<rect x="326.21" y="423.87" width="4.0" height="4.0" fill="none" stroke="#727272" stroke-width="1"/>
<rect x="326.73" y="424.03" width="4.0" height="4.0" fill="none" stroke="#727272" stroke-width="1"/>
<rect x="327.25" y="424.19" width="4.0" height="4.0" fill="none" stroke="#727272" stroke-width="1"/>
<rect x="327.79" y="424.36" width="4.0" height="4.0" fill="none" stroke="#727272" stroke-width="1"/>
<rect x="328.33" y="424.53" width="4.0" height="4.0" fill="none" stroke="#727272" stroke-width="1"/>
<rect x="328.89" y="424.71" width="4.0" height="4.0" fill="none" stroke="#727272" stroke-width="1"/>
<rect x="329.46" y="424.88" width="4.0" height="4.0" fill="none" stroke="#727272" stroke-width="1"/>
<rect x="330.04" y="425.07" width="4.0" height="4.0" fill="none" stroke="#727272" stroke-width="1"/>
<rect x="330.63" y="425.26" width="4.0" height="4.0" fill="none" stroke="#727272" stroke-width="1"/>
<rect x="331.23" y="425.45" width="4.0" height="4.0" fill="none" stroke="#727272" stroke-width="1"/>
<rect x="331.85" y="425.65" width="4.0" height="4.0" fill="none" stroke="#727272" stroke-width="1"/>
<rect x="332.47" y="425.86" width="4.0" height="4.0" fill="none" stroke="#727272" stroke-width="1"/>
<rect x="333.11" y="426.07" width="4.0" height="4.0" fill="none" stroke="#727272" stroke-width="1"/>
<rect x="333.76" y="426.29" width="4.0" height="4.0" fill="none" stroke="#727272" stroke-width="1"/>
<rect x="334.43" y="426.51" width="4.0" height="4.0" fill="none" stroke="#727272" stroke-width="1"/>
<rect x="335.11" y="426.74" width="4.0" height="4.0" fill="none" stroke="#727272" stroke-width="1"/>
<rect x="335.80" y="426.98" width="4.0" height="4.0" fill="none" stroke="#727272" stroke-width="1"/>
<rect x="336.51" y="427.23" width="4.0" height="4.0" fill="none" stroke="#727272" stroke-width="1"/>
<rect x="337.23" y="427.48" width="4.0" height="4.0" fill="none" stroke="#727272" stroke-width="1"/>
<rect x="337.96" y="427.73" width="4.0" height="4.0" fill="none" stroke="#727272" stroke-width="1"/>
<rect x="338.71" y="427.99" width="4.0" height="4.0" fill="none" stroke="#727272" stroke-width="1"/>
<rect x="339.47" y="428.26" width="4.0" height="4.0" fill="none" stroke="#727272" stroke-width="1"/>
<rect x="340.25" y="428.53" width="4.0" height="4.0" fill="none" stroke="#727272" stroke-width="1"/>
<rect x="341.05" y="428.81" width="4.0" height="4.0" fill="none" stroke="#727272" stroke-width="1"/>
<rect x="341.86" y="429.10" width="4.0" height="4.0" fill="none" stroke="#727272" stroke-width="1"/>
<rect x="342.69" y="429.39" width="4.0" height="4.0" fill="none" stroke="#727272" stroke-width="1"/>
<rect x="343.53" y="429.69" width="4.0" height="4.0" fill="none" stroke="#727272" stroke-width="1"/>
<rect x="344.39" y="430.00" width="4.0" height="4.0" fill="none" stroke="#727272" stroke-width="1"/>
<rect x="345.27" y="430.31" width="4.0" height="4.0" fill="none" stroke="#727272" stroke-width="1"/>
<rect x="346.17" y="430.63" width="4.0" height="4.0" fill="none" stroke="#727272" stroke-width="1"/>
<rect x="347.08" y="430.96" width="4.0" height="4.0" fill="none" stroke="#727272" stroke-width="1"/>
<rect x="348.01" y="431.30" width="4.0" height="4.0" fill="none" stroke="#727272" stroke-width="1"/>
<rect x="348.96" y="431.65" width="4.0" height="4.0" fill="none" stroke="#727272" stroke-width="1"/>
<rect x="349.93" y="432.01" width="4.0" height="4.0" fill="none" stroke="#727272" stroke-width="1"/>
<rect x="350.92" y="432.38" width="4.0" height="4.0" fill="none" stroke="#727272" stroke-width="1"/>
<rect x="351.93" y="432.78" width="4.0" height="4.0" fill="none" stroke="#727272" stroke-width="1"/>
<rect x="352.96" y="433.19" width="4.0" height="4.0" fill="none" stroke="#727272" stroke-width="1"/>
<rect x="354.00" y="433.62" width="4.0" height="4.0" fill="none" stroke="#727272" stroke-width="1"/>
<rect x="355.07" y="434.19" width="4.0" height="4.0" fill="none" stroke="#727272" stroke-width="1"/>
<rect x="356.17" y="435.02" width="4.0" height="4.0" fill="none" stroke="#727272" stroke-width="1"/>
<rect x="357.28" y="435.71" width="4.0" height="4.0" fill="none" stroke="#727272" stroke-width="1"/>
<rect x="358.41" y="436.38" width="4.0" height="4.0" fill="none" stroke="#727272" stroke-width="1"/>
<rect x="359.57" y="437.08" width="4.0" height="4.0" fill="none" stroke="#727272" stroke-width="1"/>
<rect x="360.75" y="437.79" width="4.0" height="4.0" fill="none" stroke="#727272" stroke-width="1"/>
<rect x="361.96" y="438.51" width="4.0" height="4.0" fill="none" stroke="#727272" stroke-width="1"/>
<rect x="363.19" y="439.25" width="4.0" height="4.0" fill="none" stroke="#727272" stroke-width="1"/>
<rect x="364.44" y="440.01" width="4.0" height="4.0" fill="none" stroke="#727272" stroke-width="1"/>
<rect x="365.72" y="440.78" width="4.0" height="4.0" fill="none" stroke="#727272" stroke-width="1"/>
<rect x="367.03" y="441.57" width="4.0" height="4.0" fill="none" stroke="#727272" stroke-width="1"/>
<rect x="368.36" y="442.37" width="4.0" height="4.0" fill="none" stroke="#727272" stroke-width="1"/>
<rect x="369.71" y="443.20" width="4.0" height="4.0" fill="none" stroke="#727272" stroke-width="1"/>
<rect x="371.10" y="444.05" width="4.0" height="4.0" fill="none" stroke="#727272" stroke-width="1"/>
<rect x="372.51" y="444.95" width="4.0" height="4.0" fill="none" stroke="#727272" stroke-width="1"/>
<rect x="373.95" y="445.93" width="4.0" height="4.0" fill="none" stroke="#707070" stroke-width="1"/>
<rect x="375.42" y="446.84" width="4.0" height="4.0" fill="none" stroke="#6f6f6f" stroke-width="1"/>
<rect x="376.92" y="447.71" width="4.0" height="4.0" fill="none" stroke="#6d6d6d" stroke-width="1"/>
<rect x="378.45" y="448.58" width="4.0" height="4.0" fill="none" stroke="#6b6b6b" stroke-width="1"/>
<rect x="380.00" y="449.45" width="4.0" height="4.0" fill="none" stroke="#6a6a6a" stroke-width="1"/>
<rect x="381.59" y="450.33" width="4.0" height="4.0" fill="none" stroke="#686868" stroke-width="1"/>
<rect x="383.22" y="451.23" width="4.0" height="4.0" fill="none" stroke="#666666" stroke-width="1"/>
<rect x="384.87" y="452.14" width="4.0" height="4.0" fill="none" stroke="#646464" stroke-width="1"/>
<rect x="386.56" y="453.05" width="4.0" height="4.0" fill="none" stroke="#626262" stroke-width="1"/>
<rect x="388.28" y="453.97" width="4.0" height="4.0" fill="none" stroke="#606060" stroke-width="1"/>
<rect x="390.03" y="454.89" width="4.0" height="4.0" fill="none" stroke="#5e5e5e" stroke-width="1"/>
<rect x="391.83" y="455.58" width="4.0" height="4.0" fill="none" stroke="#5c5c5c" stroke-width="1"/>
<rect x="393.65" y="456.24" width="4.0" height="4.0" fill="none" stroke="#5a5a5a" stroke-width="1"/>
<rect x="395.52" y="456.93" width="4.0" height="4.0" fill="none" stroke="#585858" stroke-width="1"/>
<rect x="397.42" y="457.63" width="4.0" height="4.0" fill="none" stroke="#565656" stroke-width="1"/>
<rect x="399.35" y="458.33" width="4.0" height="4.0" fill="none" stroke="#545454" stroke-width="1"/>
<rect x="401.33" y="459.04" width="4.0" height="4.0" fill="none" stroke="#525252" stroke-width="1"/>
<rect x="403.35" y="459.76" width="4.0" height="4.0" fill="none" stroke="#4f4f4f" stroke-width="1"/>
<rect x="405.40" y="460.48" width="4.0" height="4.0" fill="none" stroke="#4d4d4d" stroke-width="1"/>
<rect x="407.50" y="461.20" width="4.0" height="4.0" fill="none" stroke="#4b4b4b" stroke-width="1"/>
<rect x="409.64" y="461.91" width="4.0" height="4.0" fill="none" stroke="#484848" stroke-width="1"/>
<rect x="411.83" y="462.62" width="4.0" height="4.0" fill="none" stroke="#464646" stroke-width="1"/>
<rect x="414.05" y="463.32" width="4.0" height="4.0" fill="none" stroke="#454545" stroke-width="1"/>
<rect x="416.32" y="464.03" width="4.0" height="4.0" fill="none" stroke="#454545" stroke-width="1"/>
<rect x="418.64" y="464.75" width="4.0" height="4.0" fill="none" stroke="#454545" stroke-width="1"/>
<rect x="421.00" y="465.47" width="4.0" height="4.0" fill="none" stroke="#454545" stroke-width="1"/>
<rect x="423.41" y="466.19" width="4.0" height="4.0" fill="none" stroke="#454545" stroke-width="1"/>
<rect x="425.87" y="466.88" width="4.0" height="4.0" fill="none" stroke="#454545" stroke-width="1"/>
<rect x="428.38" y="467.57" width="4.0" height="4.0" fill="none" stroke="#454545" stroke-width="1"/>
<rect x="430.94" y="468.28" width="4.0" height="4.0" fill="none" stroke="#454545" stroke-width="1"/>
<rect x="433.54" y="469.08" width="4.0" height="4.0" fill="none" stroke="#454545" stroke-width="1"/>
<rect x="436.20" y="469.97" width="4.0" height="4.0" fill="none" stroke="#454545" stroke-width="1"/>
<rect x="438.92" y="470.94" width="4.0" height="4.0" fill="none" stroke="#454545" stroke-width="1"/>
<rect x="441.69" y="471.94" width="4.0" height="4.0" fill="none" stroke="#454545" stroke-width="1"/>
<rect x="444.51" y="472.92" width="4.0" height="4.0" fill="none" stroke="#454545" stroke-width="1"/>
<rect x="447.39" y="473.91" width="4.0" height="4.0" fill="none" stroke="#454545" stroke-width="1"/>
<rect x="450.33" y="474.90" width="4.0" height="4.0" fill="none" stroke="#454545" stroke-width="1"/>
<rect x="453.68" y="476.27" width="3.3" height="3.3" fill="none" stroke="#454545" stroke-width="1"/>
<rect x="456.73" y="477.31" width="3.3" height="3.3" fill="none" stroke="#454545" stroke-width="1"/>
<rect x="459.85" y="477.95" width="3.3" height="3.3" fill="none" stroke="#454545" stroke-width="1"/>
<rect x="464.15" y="480.15" width="3.3" height="3.3" fill="none" stroke="#454545" stroke-width="1"/>
<rect x="467.85" y="482.05" width="3.3" height="3.3" fill="none" stroke="#454545" stroke-width="1"/>
<rect x="471.45" y="483.85" width="3.3" height="3.3" fill="none" stroke="#454545" stroke-width="1"/>
<rect x="475.05" y="485.25" width="3.3" height="3.3" fill="none" stroke="#454545" stroke-width="1"/>
<rect x="478.75" y="486.75" width="3.3" height="3.3" fill="none" stroke="#454545" stroke-width="1"/>
<rect x="482.35" y="487.75" width="3.3" height="3.3" fill="none" stroke="#454545" stroke-width="1"/>
<rect x="485.95" y="488.65" width="3.3" height="3.3" fill="none" stroke="#454545" stroke-width="1"/>
<rect x="488.85" y="489.65" width="3.3" height="3.3" fill="none" stroke="#454545" stroke-width="1"/>
<rect x="492.55" y="490.65" width="3.3" height="3.3" fill="none" stroke="#454545" stroke-width="1"/>
<rect x="496.15" y="491.55" width="3.3" height="3.3" fill="none" stroke="#454545" stroke-width="1"/>
<rect x="499.85" y="492.55" width="3.3" height="3.3" fill="none" stroke="#454545" stroke-width="1"/>
<rect x="503.45" y="493.95" width="3.3" height="3.3" fill="none" stroke="#454545" stroke-width="1"/>
<rect x="507.85" y="495.85" width="3.3" height="3.3" fill="none" stroke="#454545" stroke-width="1"/>
<rect x="512.15" y="497.35" width="3.3" height="3.3" fill="none" stroke="#454545" stroke-width="1"/>
<rect x="516.55" y="500.25" width="3.3" height="3.3" fill="none" stroke="#454545" stroke-width="1"/>
<rect x="520.85" y="501.95" width="3.3" height="3.3" fill="none" stroke="#454545" stroke-width="1"/>
<rect x="524.95" y="506.05" width="3.3" height="3.3" fill="none" stroke="#454545" stroke-width="1"/>
<rect x="529.35" y="509.55" width="3.3" height="3.3" fill="none" stroke="#454545" stroke-width="1"/>
<rect x="533.65" y="512.15" width="3.3" height="3.3" fill="none" stroke="#454545" stroke-width="1"/>
<rect x="538.05" y="514.75" width="3.3" height="3.3" fill="none" stroke="#454545" stroke-width="1"/>
<rect x="543.05" y="516.55" width="3.3" height="3.3" fill="none" stroke="#454545" stroke-width="1"/>
<rect x="547.85" y="517.95" width="3.3" height="3.3" fill="none" stroke="#454545" stroke-width="1"/>
<rect x="552.85" y="520.65" width="3.3" height="3.3" fill="none" stroke="#454545" stroke-width="1"/>
<rect x="557.95" y="522.05" width="3.3" height="3.3" fill="none" stroke="#454545" stroke-width="1"/>
<rect x="563.05" y="522.35" width="3.3" height="3.3" fill="none" stroke="#454545" stroke-width="1"/>
<rect x="568.45" y="522.35" width="3.3" height="3.3" fill="none" stroke="#454545" stroke-width="1"/>
<rect x="573.95" y="526.45" width="3.3" height="3.3" fill="none" stroke="#454545" stroke-width="1"/>
<rect x="579.05" y="529.65" width="3.3" height="3.3" fill="none" stroke="#454545" stroke-width="1"/>
<rect x="584.85" y="532.85" width="3.3" height="3.3" fill="none" stroke="#454545" stroke-width="1"/>
<rect x="590.45" y="536.85" width="3.3" height="3.3" fill="none" stroke="#454545" stroke-width="1"/>
<rect x="596.25" y="541.65" width="3.3" height="3.3" fill="none" stroke="#454545" stroke-width="1"/>
<rect x="602.15" y="544.95" width="3.3" height="3.3" fill="none" stroke="#454545" stroke-width="1"/>
<rect x="608.25" y="544.95" width="3.3" height="3.3" fill="none" stroke="#454545" stroke-width="1"/>
<rect x="614.45" y="544.45" width="3.3" height="3.3" fill="none" stroke="#454545" stroke-width="1"/>
<rect x="620.55" y="545.25" width="3.3" height="3.3" fill="none" stroke="#454545" stroke-width="1"/>
<rect x="626.95" y="547.85" width="3.3" height="3.3" fill="none" stroke="#454545" stroke-width="1"/>
<rect x="633.85" y="560.55" width="3.3" height="3.3" fill="none" stroke="#454545" stroke-width="1"/>
<rect x="640.05" y="585.45" width="3.3" height="3.3" fill="none" stroke="#454545" stroke-width="1"/>
<rect x="646.95" y="585.45" width="3.3" height="3.3" fill="none" stroke="#454545" stroke-width="1"/>
<rect x="653.85" y="583.05" width="3.3" height="3.3" fill="none" stroke="#454545" stroke-width="1"/>
<rect x="661.05" y="600.25" width="3.3" height="3.3" fill="none" stroke="#454545" stroke-width="1"/>
<rect x="668.25" y="596.15" width="3.3" height="3.3" fill="none" stroke="#454545" stroke-width="1"/>
<rect x="675.55" y="595.25" width="3.3" height="3.3" fill="none" stroke="#454545" stroke-width="1"/>
<rect x="683.25" y="596.95" width="3.3" height="3.3" fill="none" stroke="#454545" stroke-width="1"/>
<rect x="690.85" y="586.95" width="3.3" height="3.3" fill="none" stroke="#454545" stroke-width="1"/>
<rect x="698.55" y="584.55" width="3.3" height="3.3" fill="none" stroke="#454545" stroke-width="1"/>
<rect x="706.45" y="588.05" width="3.3" height="3.3" fill="none" stroke="#454545" stroke-width="1"/>
<rect x="714.85" y="591.55" width="3.3" height="3.3" fill="none" stroke="#454545" stroke-width="1"/>
<rect x="722.95" y="599.25" width="3.3" height="3.3" fill="none" stroke="#454545" stroke-width="1"/>
<rect x="731.35" y="657.15" width="3.3" height="3.3" fill="none" stroke="#454545" stroke-width="1"/>
<rect x="740.05" y="630.35" width="3.3" height="3.3" fill="none" stroke="#454545" stroke-width="1"/>
<rect x="748.85" y="612.35" width="3.3" height="3.3" fill="none" stroke="#454545" stroke-width="1"/>
<rect x="757.75" y="635.15" width="3.3" height="3.3" fill="none" stroke="#454545" stroke-width="1"/>
<rect x="766.95" y="653.35" width="3.3" height="3.3" fill="none" stroke="#454545" stroke-width="1"/>
<rect x="776.35" y="629.95" width="3.3" height="3.3" fill="none" stroke="#454545" stroke-width="1"/>
<rect x="785.75" y="640.75" width="3.3" height="3.3" fill="none" stroke="#454545" stroke-width="1"/>
<rect x="805.35" y="661.35" width="3.3" height="3.3" fill="none" stroke="#454545" stroke-width="1"/>
<rect x="835.95" y="638.35" width="3.3" height="3.3" fill="none" stroke="#454545" stroke-width="1"/>
<rect x="868.75" y="624.95" width="3.3" height="3.3" fill="none" stroke="#454545" stroke-width="1"/>
<rect x="880.35" y="633.95" width="3.3" height="3.3" fill="none" stroke="#454545" stroke-width="1"/>
<rect x="927.95" y="640.75" width="3.3" height="3.3" fill="none" stroke="#454545" stroke-width="1"/>
<rect x="940.75" y="643.95" width="3.3" height="3.3" fill="none" stroke="#454545" stroke-width="1"/>
<polyline points="309.50,430.90 310.89,431.47 312.77,432.24 315.02,433.17 317.51,434.20 320.11,435.29 322.70,436.40 325.42,437.59 328.40,438.91 331.49,440.29 334.56,441.66 337.44,442.95 340.00,444.10 342.19,445.06 344.11,445.88 345.85,446.63 347.50,447.35 349.16,448.12 350.90,449.00 352.72,449.99 354.53,451.06 356.35,452.16 358.17,453.29 359.98,454.41 361.80,455.50 363.62,456.56 365.43,457.60 367.25,458.63 369.07,459.67 370.88,460.72 372.70,461.80 374.45,462.89 376.13,463.99 377.81,465.10 379.56,466.23 381.47,467.40 383.60,468.60 386.04,469.86 388.73,471.19 391.58,472.54 394.47,473.89 397.31,475.22 400.00,476.50 402.53,477.73 404.97,478.93 407.36,480.11 409.73,481.27 412.10,482.40 414.50,483.50 416.93,484.56 419.36,485.58 421.80,486.57 424.24,487.56 426.67,488.56 429.10,489.60 431.52,490.66 433.94,491.74 436.35,492.83 438.76,493.93 441.18,495.05 443.60,496.20 446.03,497.37 448.46,498.57 450.90,499.79 453.34,501.02 455.77,502.26 458.20,503.50 460.71,504.80 463.31,506.16 465.91,507.54 468.40,508.86 470.70,510.07 472.70,511.10 474.27,511.91 475.47,512.53 476.46,513.04 477.43,513.51 478.55,514.01 480.00,514.60 481.80,515.27 483.83,515.96 486.01,516.67 488.26,517.42 490.52,518.23 492.70,519.10 494.83,520.04 496.96,521.03 499.10,522.07 501.24,523.16 503.37,524.31 505.50,525.50 507.62,526.72 509.74,527.98 511.86,529.28 513.97,530.66 516.08,532.12 518.20,533.70 520.32,535.46 522.43,537.41 524.55,539.44 526.67,541.48 528.78,543.43 530.90,545.20 533.02,546.80 535.13,548.30 537.24,549.71 539.36,551.04 541.48,552.30 543.60,553.50 545.73,554.62 547.86,555.64 550.00,556.59 552.14,557.49 554.27,558.36 556.40,559.20 558.52,559.96 560.64,560.62 562.76,561.24 564.87,561.89 566.98,562.66 569.10,563.60 571.22,564.75 573.33,566.06 575.45,567.47 577.57,568.94 579.68,570.44 581.80,571.90 584.06,573.45 586.50,575.15 588.94,576.87 591.21,578.47 593.12,579.82 594.50,580.80 600.90,585.90 607.30,588.50 620.00,592.30 629.10,596.30 641.30,629.40 655.10,636.60 662.70,662.30 670.30,651.30 677.20,648.30 684.90,660.80 692.50,647.80 700.20,647.00 708.60,653.90 713.90,665.40" fill="none" stroke="#e01c1c" stroke-width="1.7" stroke-linejoin="round" />
<polyline points="309.50,469.30 311.43,469.86 314.10,470.62 317.26,471.53 320.68,472.51 324.10,473.53 327.30,474.50 330.31,475.46 333.34,476.46 336.38,477.49 339.43,478.51 342.47,479.53 345.50,480.50 348.52,481.43 351.54,482.34 354.55,483.23 357.56,484.11 360.58,485.00 363.60,485.90 366.63,486.82 369.66,487.77 372.69,488.72 375.73,489.65 378.77,490.55 381.80,491.40 384.88,492.20 388.00,492.96 391.13,493.68 394.21,494.38 397.18,495.05 400.00,495.70 402.63,496.32 405.10,496.90 407.48,497.46 409.80,498.01 412.12,498.55 414.50,499.10 416.93,499.66 419.36,500.21 421.80,500.76 424.24,501.31 426.67,501.86 429.10,502.40 431.52,502.94 433.94,503.48 436.35,504.02 438.76,504.55 441.18,505.08 443.60,505.60 445.96,506.08 448.23,506.50 450.51,506.93 452.88,507.39 455.41,507.93 458.20,508.60 461.33,509.44 464.77,510.41 468.37,511.46 472.01,512.55 475.56,513.61 478.90,514.60 482.10,515.54 485.28,516.47 488.38,517.38 491.31,518.25 494.01,519.06 496.40,519.80 498.36,520.43 499.92,520.96 501.25,521.44 502.51,521.89 503.87,522.37 505.50,522.90 507.41,523.48 509.47,524.09 511.63,524.71 513.83,525.36 516.04,526.02 518.20,526.70 520.32,527.42 522.43,528.17 524.55,528.95 526.67,529.73 528.78,530.48 530.90,531.20 533.02,531.88 535.13,532.54 537.24,533.18 539.36,533.80 541.48,534.41 543.60,535.00 545.73,535.58 547.86,536.14 550.00,536.68 552.14,537.21 554.27,537.71 556.40,538.20 558.52,538.65 560.64,539.06 562.76,539.45 564.87,539.84 566.98,540.25 569.10,540.70 571.22,541.17 573.33,541.63 575.45,542.12 577.57,542.64 579.68,543.23 581.80,543.90 584.06,544.74 586.50,545.74 588.94,546.80 591.21,547.82 593.12,548.69 594.50,549.30 607.30,554.40 620.00,558.30 629.10,560.60 641.30,577.90 654.30,581.30 662.70,599.60 677.20,586.60 684.90,591.70 692.50,588.60 700.20,587.70 707.00,590.20 716.20,596.60 724.60,597.80 733.00,631.40 741.40,639.40 750.50,616.00 759.40,643.00 768.60,642.00 778.00,629.00 787.40,644.00 791.00,665.40" fill="none" stroke="#1ee01e" stroke-width="1.7" stroke-linejoin="round" />
<polyline points="830.00,665.40 837.60,655.00 843.00,665.40" fill="none" stroke="#1ee01e" stroke-width="1.7" stroke-linejoin="round" />
<polyline points="855.00,665.40 859.60,650.00 868.00,665.40" fill="none" stroke="#1ee01e" stroke-width="1.7" stroke-linejoin="round" />
<polyline points="927.00,665.40 929.60,661.00 933.00,665.40" fill="none" stroke="#1ee01e" stroke-width="1.7" stroke-linejoin="round" />
<polyline points="309.50,418.50 310.42,418.94 311.50,419.50 312.88,420.19 314.67,421.02 317.00,422.02 320.00,423.20 323.96,424.61 328.83,426.26 334.24,428.06 339.82,429.97 345.20,431.90 350.00,433.80 354.26,435.71 358.27,437.68 362.09,439.69 365.74,441.69 369.26,443.64 372.70,445.50 375.99,447.30 379.09,449.06 382.06,450.77 384.97,452.43 387.90,454.01 390.90,455.50 393.86,456.85 396.68,458.05 399.52,459.18 402.51,460.30 405.79,461.49 409.50,462.80 413.81,464.28 418.65,465.88 423.78,467.54 428.97,469.20 433.99,470.81 438.60,472.30 442.70,473.62 446.47,474.81 450.06,475.94 453.64,477.10 457.40,478.36 461.50,479.80 466.05,481.49 470.93,483.38 475.98,485.37 481.03,487.37 485.93,489.28 490.50,491.00 494.78,492.48 498.91,493.77 502.89,494.98 506.70,496.19 510.34,497.50 513.80,499.00 516.95,500.72 519.75,502.59 522.39,504.56 525.03,506.57 527.84,508.57 531.00,510.50 534.66,512.47 538.70,514.54 542.91,516.59 547.09,518.52 551.03,520.19 554.50,521.50 557.47,522.31 560.09,522.69 562.46,522.81 564.69,522.87 566.87,523.04 569.10,523.50 571.35,524.25 573.54,525.15 575.68,526.16 577.79,527.25 579.89,528.37 582.00,529.50 584.25,530.74 586.66,532.14 589.06,533.58 591.27,534.93 593.14,536.08 594.50,536.90 607.30,542.60 620.00,545.20 628.60,547.60 635.90,559.90 641.30,569.80 652.80,572.90 655.80,574.40 662.70,593.50 677.20,580.50 684.90,585.90 693.30,580.50 700.20,581.00 708.60,584.30 716.20,592.00 724.60,593.80 733.00,627.90 741.40,635.10 750.50,613.00 759.40,640.00 768.60,639.60 778.00,627.00 787.40,642.40 791.00,665.40" fill="none" stroke="#3a3a3a" stroke-width="0.9" stroke-linejoin="round" stroke-opacity="0.75"/>
<polyline points="830.00,665.40 837.60,655.00 843.00,665.40" fill="none" stroke="#3a3a3a" stroke-width="0.9" stroke-linejoin="round" stroke-opacity="0.75"/>
<polyline points="853.60,665.40 859.60,648.00 876.00,665.40" fill="none" stroke="#3a3a3a" stroke-width="0.9" stroke-linejoin="round" stroke-opacity="0.75"/>
<polyline points="927.00,665.40 929.60,660.00 934.00,665.40" fill="none" stroke="#3a3a3a" stroke-width="0.9" stroke-linejoin="round" stroke-opacity="0.75"/>
<polyline points="309.50,418.50 310.42,418.94 311.50,419.50 312.88,420.19 314.67,421.02 317.00,422.02 320.00,423.20 323.96,424.61 328.83,426.26 334.24,428.06 339.82,429.97 345.20,431.90 350.00,433.80 354.26,435.71 358.27,437.68 362.09,439.69 365.74,441.69 369.26,443.64 372.70,445.50 375.99,447.30 379.09,449.06 382.06,450.77 384.97,452.43 387.90,454.01 390.90,455.50 393.86,456.85 396.68,458.05 399.52,459.18 402.51,460.30 405.79,461.49 409.50,462.80 413.81,464.28 418.65,465.88 423.78,467.54 428.97,469.20 433.99,470.81 438.60,472.30" fill="none" stroke="#1a1a1a" stroke-width="1" stroke-linejoin="round" />
</g>
<clipPath id="cr"><rect x="302.5" y="672.6" width="752.8" height="106.39999999999998"/></clipPath>
<g clip-path="url(#cr)">
<line x1="302.5" y1="725.80" x2="942.8" y2="725.80" stroke="#a0a0a0" stroke-width="1"/>
<rect x="308.61" y="726.63" width="1.7" height="1.7" fill="none" stroke="#222" stroke-width="1"/>
<rect x="308.75" y="726.61" width="1.7" height="1.7" fill="none" stroke="#222" stroke-width="1"/>
<rect x="308.89" y="726.58" width="1.7" height="1.7" fill="none" stroke="#222" stroke-width="1"/>
<rect x="309.04" y="726.56" width="1.7" height="1.7" fill="none" stroke="#222" stroke-width="1"/>
<rect x="309.18" y="726.53" width="1.7" height="1.7" fill="none" stroke="#222" stroke-width="1"/>
<rect x="309.33" y="726.50" width="1.7" height="1.7" fill="none" stroke="#222" stroke-width="1"/>
<rect x="309.49" y="726.47" width="1.7" height="1.7" fill="none" stroke="#222" stroke-width="1"/>
<rect x="309.64" y="726.44" width="1.7" height="1.7" fill="none" stroke="#222" stroke-width="1"/>
<rect x="309.80" y="726.42" width="1.7" height="1.7" fill="none" stroke="#222" stroke-width="1"/>
<rect x="309.97" y="726.39" width="1.7" height="1.7" fill="none" stroke="#222" stroke-width="1"/>
<rect x="310.13" y="726.36" width="1.7" height="1.7" fill="none" stroke="#222" stroke-width="1"/>
<rect x="310.30" y="726.32" width="1.7" height="1.7" fill="none" stroke="#222" stroke-width="1"/>
<rect x="310.48" y="726.29" width="1.7" height="1.7" fill="none" stroke="#222" stroke-width="1"/>
<rect x="310.65" y="726.26" width="1.7" height="1.7" fill="none" stroke="#222" stroke-width="1"/>
<rect x="310.83" y="726.23" width="1.7" height="1.7" fill="none" stroke="#222" stroke-width="1"/>
<rect x="311.02" y="726.20" width="1.7" height="1.7" fill="none" stroke="#222" stroke-width="1"/>
<rect x="311.20" y="726.16" width="1.7" height="1.7" fill="none" stroke="#222" stroke-width="1"/>
<rect x="311.39" y="726.13" width="1.7" height="1.7" fill="none" stroke="#222" stroke-width="1"/>
<rect x="311.59" y="726.10" width="1.7" height="1.7" fill="none" stroke="#222" stroke-width="1"/>
<rect x="311.79" y="726.06" width="1.7" height="1.7" fill="none" stroke="#222" stroke-width="1"/>
<rect x="311.99" y="726.03" width="1.7" height="1.7" fill="none" stroke="#222" stroke-width="1"/>
<rect x="312.20" y="725.99" width="1.7" height="1.7" fill="none" stroke="#222" stroke-width="1"/>
<rect x="312.41" y="725.96" width="1.7" height="1.7" fill="none" stroke="#222" stroke-width="1"/>
<rect x="312.62" y="725.92" width="1.7" height="1.7" fill="none" stroke="#222" stroke-width="1"/>
<rect x="312.84" y="725.89" width="1.7" height="1.7" fill="none" stroke="#222" stroke-width="1"/>
<rect x="313.07" y="725.85" width="1.7" height="1.7" fill="none" stroke="#222" stroke-width="1"/>
<rect x="313.30" y="725.81" width="1.7" height="1.7" fill="none" stroke="#222" stroke-width="1"/>
<rect x="313.53" y="725.78" width="1.7" height="1.7" fill="none" stroke="#222" stroke-width="1"/>
<rect x="313.77" y="725.75" width="1.7" height="1.7" fill="none" stroke="#222" stroke-width="1"/>
<rect x="314.01" y="725.71" width="1.7" height="1.7" fill="none" stroke="#222" stroke-width="1"/>
<rect x="314.26" y="725.67" width="1.7" height="1.7" fill="none" stroke="#222" stroke-width="1"/>
<rect x="314.51" y="725.64" width="1.7" height="1.7" fill="none" stroke="#222" stroke-width="1"/>
<rect x="314.77" y="725.60" width="1.7" height="1.7" fill="none" stroke="#222" stroke-width="1"/>
<rect x="315.03" y="725.57" width="1.7" height="1.7" fill="none" stroke="#222" stroke-width="1"/>
<rect x="315.30" y="725.54" width="1.7" height="1.7" fill="none" stroke="#222" stroke-width="1"/>
<rect x="315.57" y="725.51" width="1.7" height="1.7" fill="none" stroke="#222" stroke-width="1"/>
<rect x="315.85" y="725.47" width="1.7" height="1.7" fill="none" stroke="#222" stroke-width="1"/>
<rect x="316.13" y="725.44" width="1.7" height="1.7" fill="none" stroke="#222" stroke-width="1"/>
<rect x="316.42" y="725.42" width="1.7" height="1.7" fill="none" stroke="#222" stroke-width="1"/>
<rect x="316.72" y="725.40" width="1.7" height="1.7" fill="none" stroke="#222" stroke-width="1"/>
<rect x="317.02" y="725.38" width="1.7" height="1.7" fill="none" stroke="#222" stroke-width="1"/>
<rect x="317.32" y="725.35" width="1.7" height="1.7" fill="none" stroke="#222" stroke-width="1"/>
<rect x="317.64" y="725.34" width="1.7" height="1.7" fill="none" stroke="#222" stroke-width="1"/>
<rect x="317.96" y="725.34" width="1.7" height="1.7" fill="none" stroke="#222" stroke-width="1"/>
<rect x="318.28" y="725.33" width="1.7" height="1.7" fill="none" stroke="#222" stroke-width="1"/>
<rect x="318.62" y="725.32" width="1.7" height="1.7" fill="none" stroke="#222" stroke-width="1"/>
<rect x="318.96" y="725.33" width="1.7" height="1.7" fill="none" stroke="#222" stroke-width="1"/>
<rect x="319.30" y="725.34" width="1.7" height="1.7" fill="none" stroke="#222" stroke-width="1"/>
<rect x="319.65" y="725.34" width="1.7" height="1.7" fill="none" stroke="#222" stroke-width="1"/>
<rect x="320.01" y="725.36" width="1.7" height="1.7" fill="none" stroke="#222" stroke-width="1"/>
<rect x="320.38" y="725.38" width="1.7" height="1.7" fill="none" stroke="#222" stroke-width="1"/>
<rect x="320.76" y="725.40" width="1.7" height="1.7" fill="none" stroke="#222" stroke-width="1"/>
<rect x="321.14" y="725.43" width="1.7" height="1.7" fill="none" stroke="#222" stroke-width="1"/>
<rect x="321.53" y="725.47" width="1.7" height="1.7" fill="none" stroke="#222" stroke-width="1"/>
<rect x="321.93" y="725.50" width="1.7" height="1.7" fill="none" stroke="#222" stroke-width="1"/>
<rect x="322.33" y="725.54" width="1.7" height="1.7" fill="none" stroke="#222" stroke-width="1"/>
<rect x="322.75" y="725.58" width="1.7" height="1.7" fill="none" stroke="#222" stroke-width="1"/>
<rect x="323.17" y="725.62" width="1.7" height="1.7" fill="none" stroke="#222" stroke-width="1"/>
<rect x="323.60" y="725.67" width="1.7" height="1.7" fill="none" stroke="#222" stroke-width="1"/>
<rect x="324.04" y="725.71" width="1.7" height="1.7" fill="none" stroke="#222" stroke-width="1"/>
<rect x="324.48" y="725.76" width="1.7" height="1.7" fill="none" stroke="#222" stroke-width="1"/>
<rect x="324.94" y="725.81" width="1.7" height="1.7" fill="none" stroke="#222" stroke-width="1"/>
<rect x="325.41" y="725.85" width="1.7" height="1.7" fill="none" stroke="#222" stroke-width="1"/>
<rect x="325.88" y="725.90" width="1.7" height="1.7" fill="none" stroke="#222" stroke-width="1"/>
<rect x="326.37" y="725.94" width="1.7" height="1.7" fill="none" stroke="#222" stroke-width="1"/>
<rect x="326.86" y="725.98" width="1.7" height="1.7" fill="none" stroke="#222" stroke-width="1"/>
<rect x="327.36" y="726.03" width="1.7" height="1.7" fill="none" stroke="#222" stroke-width="1"/>
<rect x="327.88" y="726.07" width="1.7" height="1.7" fill="none" stroke="#222" stroke-width="1"/>
<rect x="328.40" y="726.12" width="1.7" height="1.7" fill="none" stroke="#222" stroke-width="1"/>
<rect x="328.94" y="726.17" width="1.7" height="1.7" fill="none" stroke="#222" stroke-width="1"/>
<rect x="329.48" y="726.22" width="1.7" height="1.7" fill="none" stroke="#222" stroke-width="1"/>
<rect x="330.04" y="726.27" width="1.7" height="1.7" fill="none" stroke="#222" stroke-width="1"/>
<rect x="330.61" y="726.32" width="1.7" height="1.7" fill="none" stroke="#222" stroke-width="1"/>
<rect x="331.19" y="726.38" width="1.7" height="1.7" fill="none" stroke="#222" stroke-width="1"/>
<rect x="331.78" y="726.44" width="1.7" height="1.7" fill="none" stroke="#222" stroke-width="1"/>
<rect x="332.38" y="726.50" width="1.7" height="1.7" fill="none" stroke="#222" stroke-width="1"/>
<rect x="333.00" y="726.57" width="1.7" height="1.7" fill="none" stroke="#222" stroke-width="1"/>
<rect x="333.62" y="726.63" width="1.7" height="1.7" fill="none" stroke="#222" stroke-width="1"/>
<rect x="334.26" y="726.70" width="1.7" height="1.7" fill="none" stroke="#222" stroke-width="1"/>
<rect x="334.91" y="726.78" width="1.7" height="1.7" fill="none" stroke="#222" stroke-width="1"/>
<rect x="335.58" y="726.85" width="1.7" height="1.7" fill="none" stroke="#222" stroke-width="1"/>
<rect x="336.26" y="726.94" width="1.7" height="1.7" fill="none" stroke="#222" stroke-width="1"/>
<rect x="336.95" y="727.03" width="1.7" height="1.7" fill="none" stroke="#222" stroke-width="1"/>
<rect x="337.66" y="727.12" width="1.7" height="1.7" fill="none" stroke="#222" stroke-width="1"/>
<rect x="338.38" y="727.22" width="1.7" height="1.7" fill="none" stroke="#222" stroke-width="1"/>
<rect x="339.11" y="727.33" width="1.7" height="1.7" fill="none" stroke="#222" stroke-width="1"/>
<rect x="339.86" y="727.43" width="1.7" height="1.7" fill="none" stroke="#222" stroke-width="1"/>
<rect x="340.62" y="727.54" width="1.7" height="1.7" fill="none" stroke="#222" stroke-width="1"/>
<rect x="341.40" y="727.65" width="1.7" height="1.7" fill="none" stroke="#222" stroke-width="1"/>
<rect x="342.20" y="727.76" width="1.7" height="1.7" fill="none" stroke="#222" stroke-width="1"/>
<rect x="343.01" y="727.86" width="1.7" height="1.7" fill="none" stroke="#222" stroke-width="1"/>
<rect x="343.84" y="727.96" width="1.7" height="1.7" fill="none" stroke="#222" stroke-width="1"/>
<rect x="344.68" y="728.05" width="1.7" height="1.7" fill="none" stroke="#222" stroke-width="1"/>
<rect x="345.54" y="728.14" width="1.7" height="1.7" fill="none" stroke="#222" stroke-width="1"/>
<rect x="346.42" y="728.22" width="1.7" height="1.7" fill="none" stroke="#222" stroke-width="1"/>
<rect x="347.32" y="728.30" width="1.7" height="1.7" fill="none" stroke="#222" stroke-width="1"/>
<rect x="348.23" y="728.38" width="1.7" height="1.7" fill="none" stroke="#222" stroke-width="1"/>
<rect x="349.16" y="728.45" width="1.7" height="1.7" fill="none" stroke="#222" stroke-width="1"/>
<rect x="350.11" y="728.51" width="1.7" height="1.7" fill="none" stroke="#222" stroke-width="1"/>
<rect x="351.08" y="728.57" width="1.7" height="1.7" fill="none" stroke="#222" stroke-width="1"/>
<rect x="352.07" y="728.61" width="1.7" height="1.7" fill="none" stroke="#222" stroke-width="1"/>
<rect x="353.08" y="728.64" width="1.7" height="1.7" fill="none" stroke="#222" stroke-width="1"/>
<rect x="354.11" y="728.65" width="1.7" height="1.7" fill="none" stroke="#222" stroke-width="1"/>
<rect x="355.15" y="728.65" width="1.7" height="1.7" fill="none" stroke="#222" stroke-width="1"/>
<rect x="356.22" y="728.64" width="1.7" height="1.7" fill="none" stroke="#222" stroke-width="1"/>
<rect x="357.32" y="728.61" width="1.7" height="1.7" fill="none" stroke="#222" stroke-width="1"/>
<rect x="358.43" y="728.56" width="1.7" height="1.7" fill="none" stroke="#222" stroke-width="1"/>
<rect x="359.56" y="728.50" width="1.7" height="1.7" fill="none" stroke="#222" stroke-width="1"/>
<rect x="360.72" y="728.42" width="1.7" height="1.7" fill="none" stroke="#222" stroke-width="1"/>
<rect x="361.90" y="728.33" width="1.7" height="1.7" fill="none" stroke="#222" stroke-width="1"/>
<rect x="363.11" y="728.21" width="1.7" height="1.7" fill="none" stroke="#222" stroke-width="1"/>
<rect x="364.34" y="728.07" width="1.7" height="1.7" fill="none" stroke="#222" stroke-width="1"/>
<rect x="365.59" y="727.90" width="1.7" height="1.7" fill="none" stroke="#222" stroke-width="1"/>
<rect x="366.87" y="727.70" width="1.7" height="1.7" fill="none" stroke="#222" stroke-width="1"/>
<rect x="368.18" y="727.49" width="1.7" height="1.7" fill="none" stroke="#222" stroke-width="1"/>
<rect x="369.51" y="727.26" width="1.7" height="1.7" fill="none" stroke="#222" stroke-width="1"/>
<rect x="370.86" y="727.02" width="1.7" height="1.7" fill="none" stroke="#222" stroke-width="1"/>
<rect x="372.25" y="726.78" width="1.7" height="1.7" fill="none" stroke="#222" stroke-width="1"/>
<rect x="373.66" y="726.51" width="1.7" height="1.7" fill="none" stroke="#222" stroke-width="1"/>
<rect x="375.10" y="726.21" width="1.7" height="1.7" fill="none" stroke="#222" stroke-width="1"/>
<rect x="376.57" y="725.90" width="1.7" height="1.7" fill="none" stroke="#222" stroke-width="1"/>
<rect x="378.07" y="725.59" width="1.7" height="1.7" fill="none" stroke="#222" stroke-width="1"/>
<rect x="379.60" y="725.29" width="1.7" height="1.7" fill="none" stroke="#222" stroke-width="1"/>
<rect x="381.15" y="725.02" width="1.7" height="1.7" fill="none" stroke="#222" stroke-width="1"/>
<rect x="382.74" y="724.76" width="1.7" height="1.7" fill="none" stroke="#222" stroke-width="1"/>
<rect x="384.37" y="724.52" width="1.7" height="1.7" fill="none" stroke="#222" stroke-width="1"/>
<rect x="386.02" y="724.29" width="1.7" height="1.7" fill="none" stroke="#222" stroke-width="1"/>
<rect x="387.71" y="724.09" width="1.7" height="1.7" fill="none" stroke="#222" stroke-width="1"/>
<rect x="389.43" y="723.91" width="1.7" height="1.7" fill="none" stroke="#222" stroke-width="1"/>
<rect x="391.18" y="723.76" width="1.7" height="1.7" fill="none" stroke="#222" stroke-width="1"/>
<rect x="392.98" y="723.65" width="1.7" height="1.7" fill="none" stroke="#222" stroke-width="1"/>
<rect x="394.80" y="723.57" width="1.7" height="1.7" fill="none" stroke="#222" stroke-width="1"/>
<rect x="396.67" y="723.52" width="1.7" height="1.7" fill="none" stroke="#222" stroke-width="1"/>
<rect x="398.57" y="723.47" width="1.7" height="1.7" fill="none" stroke="#222" stroke-width="1"/>
<rect x="400.50" y="723.41" width="1.7" height="1.7" fill="none" stroke="#555" stroke-width="1"/>
<rect x="402.48" y="723.33" width="1.7" height="1.7" fill="none" stroke="#555" stroke-width="1"/>
<rect x="404.50" y="723.26" width="1.7" height="1.7" fill="none" stroke="#555" stroke-width="1"/>
<rect x="406.55" y="723.20" width="1.7" height="1.7" fill="none" stroke="#555" stroke-width="1"/>
<rect x="408.65" y="723.15" width="1.7" height="1.7" fill="none" stroke="#555" stroke-width="1"/>
<rect x="410.79" y="723.13" width="1.7" height="1.7" fill="none" stroke="#555" stroke-width="1"/>
<rect x="412.98" y="723.14" width="1.7" height="1.7" fill="none" stroke="#555" stroke-width="1"/>
<rect x="415.20" y="723.18" width="1.7" height="1.7" fill="none" stroke="#555" stroke-width="1"/>
<rect x="417.47" y="723.25" width="1.7" height="1.7" fill="none" stroke="#555" stroke-width="1"/>
<rect x="419.79" y="723.34" width="1.7" height="1.7" fill="none" stroke="#555" stroke-width="1"/>
<rect x="422.15" y="723.45" width="1.7" height="1.7" fill="none" stroke="#555" stroke-width="1"/>
<rect x="424.56" y="723.57" width="1.7" height="1.7" fill="none" stroke="#555" stroke-width="1"/>
<rect x="427.02" y="723.71" width="1.7" height="1.7" fill="none" stroke="#555" stroke-width="1"/>
<rect x="429.53" y="723.86" width="1.7" height="1.7" fill="none" stroke="#555" stroke-width="1"/>
<rect x="432.09" y="724.02" width="1.7" height="1.7" fill="none" stroke="#555" stroke-width="1"/>
<rect x="434.69" y="724.19" width="1.7" height="1.7" fill="none" stroke="#555" stroke-width="1"/>
<rect x="437.35" y="724.39" width="1.7" height="1.7" fill="none" stroke="#555" stroke-width="1"/>
<rect x="440.07" y="724.65" width="1.7" height="1.7" fill="none" stroke="#555" stroke-width="1"/>
<rect x="442.84" y="724.98" width="1.7" height="1.7" fill="none" stroke="#555" stroke-width="1"/>
<rect x="445.66" y="725.37" width="1.7" height="1.7" fill="none" stroke="#555" stroke-width="1"/>
<rect x="448.54" y="725.89" width="1.7" height="1.7" fill="none" stroke="#555" stroke-width="1"/>
<rect x="451.48" y="726.41" width="1.7" height="1.7" fill="none" stroke="#555" stroke-width="1"/>
<rect x="454.48" y="726.78" width="1.7" height="1.7" fill="none" stroke="#555" stroke-width="1"/>
<rect x="457.53" y="726.96" width="1.7" height="1.7" fill="none" stroke="#555" stroke-width="1"/>
<rect x="460.10" y="726.46" width="2.8" height="2.8" fill="none" stroke="#555" stroke-width="1"/>
<rect x="464.40" y="726.36" width="2.8" height="2.8" fill="none" stroke="#555" stroke-width="1"/>
<rect x="468.10" y="726.06" width="2.8" height="2.8" fill="none" stroke="#555" stroke-width="1"/>
<rect x="471.70" y="725.72" width="2.8" height="2.8" fill="none" stroke="#555" stroke-width="1"/>
<rect x="475.30" y="725.54" width="2.8" height="2.8" fill="none" stroke="#555" stroke-width="1"/>
<rect x="479.00" y="725.46" width="2.8" height="2.8" fill="none" stroke="#555" stroke-width="1"/>
<rect x="482.60" y="725.54" width="2.8" height="2.8" fill="none" stroke="#555" stroke-width="1"/>
<rect x="486.20" y="725.89" width="2.8" height="2.8" fill="none" stroke="#555" stroke-width="1"/>
<rect x="489.10" y="726.33" width="2.8" height="2.8" fill="none" stroke="#555" stroke-width="1"/>
<rect x="492.80" y="726.97" width="2.8" height="2.8" fill="none" stroke="#555" stroke-width="1"/>
<rect x="495.90" y="727.30" width="2.8" height="2.8" fill="none" stroke="#555" stroke-width="1"/>
<rect x="499.90" y="727.70" width="2.8" height="2.8" fill="none" stroke="#555" stroke-width="1"/>
<rect x="504.10" y="726.80" width="2.8" height="2.8" fill="none" stroke="#555" stroke-width="1"/>
<rect x="508.10" y="726.80" width="2.8" height="2.8" fill="none" stroke="#555" stroke-width="1"/>
<rect x="512.20" y="726.80" width="2.8" height="2.8" fill="none" stroke="#555" stroke-width="1"/>
<rect x="516.20" y="726.20" width="2.8" height="2.8" fill="none" stroke="#555" stroke-width="1"/>
<rect x="520.80" y="726.20" width="2.8" height="2.8" fill="none" stroke="#555" stroke-width="1"/>
<rect x="525.00" y="725.00" width="2.8" height="2.8" fill="none" stroke="#555" stroke-width="1"/>
<rect x="529.50" y="723.70" width="2.8" height="2.8" fill="none" stroke="#555" stroke-width="1"/>
<rect x="534.10" y="723.50" width="2.8" height="2.8" fill="none" stroke="#555" stroke-width="1"/>
<rect x="538.60" y="723.30" width="2.8" height="2.8" fill="none" stroke="#555" stroke-width="1"/>
<rect x="543.50" y="723.30" width="2.8" height="2.8" fill="none" stroke="#555" stroke-width="1"/>
<rect x="548.60" y="723.00" width="2.8" height="2.8" fill="none" stroke="#555" stroke-width="1"/>
<rect x="553.50" y="723.00" width="2.8" height="2.8" fill="none" stroke="#555" stroke-width="1"/>
<rect x="558.60" y="723.30" width="2.8" height="2.8" fill="none" stroke="#555" stroke-width="1"/>
<line x1="564.50" y1="724.78" x2="564.50" y2="728.02" stroke="#999" stroke-width="1"/>
<rect x="563.50" y="725.00" width="2.8" height="2.8" fill="none" stroke="#555" stroke-width="1"/>
<line x1="570.50" y1="725.85" x2="570.50" y2="729.35" stroke="#999" stroke-width="1"/>
<rect x="568.60" y="726.20" width="2.8" height="2.8" fill="none" stroke="#555" stroke-width="1"/>
<line x1="575.50" y1="723.61" x2="575.50" y2="727.39" stroke="#999" stroke-width="1"/>
<rect x="574.10" y="724.10" width="2.8" height="2.8" fill="none" stroke="#555" stroke-width="1"/>
<line x1="580.50" y1="721.98" x2="580.50" y2="726.02" stroke="#999" stroke-width="1"/>
<rect x="579.50" y="722.60" width="2.8" height="2.8" fill="none" stroke="#555" stroke-width="1"/>
<line x1="586.50" y1="720.73" x2="586.50" y2="725.07" stroke="#999" stroke-width="1"/>
<rect x="585.30" y="721.50" width="2.8" height="2.8" fill="none" stroke="#555" stroke-width="1"/>
<line x1="592.50" y1="718.20" x2="592.50" y2="722.80" stroke="#999" stroke-width="1"/>
<rect x="590.80" y="719.10" width="2.8" height="2.8" fill="none" stroke="#555" stroke-width="1"/>
<line x1="598.50" y1="716.64" x2="598.50" y2="721.56" stroke="#999" stroke-width="1"/>
<rect x="596.80" y="717.70" width="2.8" height="2.8" fill="none" stroke="#555" stroke-width="1"/>
<line x1="604.50" y1="715.20" x2="604.50" y2="720.40" stroke="#999" stroke-width="1"/>
<rect x="602.60" y="716.40" width="2.8" height="2.8" fill="none" stroke="#555" stroke-width="1"/>
<line x1="610.50" y1="717.25" x2="610.50" y2="722.75" stroke="#999" stroke-width="1"/>
<rect x="608.60" y="718.60" width="2.8" height="2.8" fill="none" stroke="#555" stroke-width="1"/>
<line x1="616.50" y1="719.80" x2="616.50" y2="725.60" stroke="#999" stroke-width="1"/>
<rect x="614.60" y="721.30" width="2.8" height="2.8" fill="none" stroke="#555" stroke-width="1"/>
<line x1="622.50" y1="721.44" x2="622.50" y2="727.56" stroke="#999" stroke-width="1"/>
<rect x="621.00" y="723.10" width="2.8" height="2.8" fill="none" stroke="#555" stroke-width="1"/>
<line x1="628.50" y1="720.98" x2="628.50" y2="727.42" stroke="#999" stroke-width="1"/>
<rect x="627.30" y="722.80" width="2.8" height="2.8" fill="none" stroke="#555" stroke-width="1"/>
<line x1="635.50" y1="715.31" x2="635.50" y2="722.09" stroke="#999" stroke-width="1"/>
<rect x="634.10" y="717.30" width="2.8" height="2.8" fill="none" stroke="#555" stroke-width="1"/>
<line x1="642.50" y1="696.40" x2="642.50" y2="703.30" stroke="#707070" stroke-width="1"/>
<rect x="641.00" y="698.10" width="2.8" height="2.8" fill="#fff" stroke="#555" stroke-width="1"/>
<line x1="649.50" y1="697.30" x2="649.50" y2="705.50" stroke="#707070" stroke-width="1"/>
<rect x="647.70" y="700.10" width="2.8" height="2.8" fill="#fff" stroke="#555" stroke-width="1"/>
<line x1="655.50" y1="703.60" x2="655.50" y2="714.00" stroke="#707070" stroke-width="1"/>
<rect x="654.40" y="707.30" width="2.8" height="2.8" fill="#fff" stroke="#555" stroke-width="1"/>
<line x1="662.50" y1="707.30" x2="662.50" y2="719.50" stroke="#707070" stroke-width="1"/>
<rect x="661.30" y="711.70" width="2.8" height="2.8" fill="#fff" stroke="#555" stroke-width="1"/>
<line x1="670.50" y1="700.00" x2="670.50" y2="713.00" stroke="#707070" stroke-width="1"/>
<rect x="668.60" y="704.60" width="2.8" height="2.8" fill="#fff" stroke="#555" stroke-width="1"/>
<line x1="677.50" y1="693.00" x2="677.50" y2="707.30" stroke="#707070" stroke-width="1"/>
<rect x="675.90" y="698.20" width="2.8" height="2.8" fill="#fff" stroke="#555" stroke-width="1"/>
<line x1="684.50" y1="699.90" x2="684.50" y2="713.90" stroke="#707070" stroke-width="1"/>
<rect x="683.20" y="704.80" width="2.8" height="2.8" fill="#fff" stroke="#555" stroke-width="1"/>
<line x1="692.50" y1="708.00" x2="692.50" y2="720.00" stroke="#707070" stroke-width="1"/>
<rect x="690.80" y="712.00" width="2.8" height="2.8" fill="#fff" stroke="#555" stroke-width="1"/>
<line x1="700.50" y1="711.50" x2="700.50" y2="722.60" stroke="#707070" stroke-width="1"/>
<rect x="699.00" y="715.30" width="2.8" height="2.8" fill="#fff" stroke="#555" stroke-width="1"/>
<line x1="708.50" y1="711.00" x2="708.50" y2="723.00" stroke="#707070" stroke-width="1"/>
<rect x="706.60" y="715.30" width="2.8" height="2.8" fill="#fff" stroke="#555" stroke-width="1"/>
<line x1="716.50" y1="717.00" x2="716.50" y2="731.00" stroke="#707070" stroke-width="1"/>
<rect x="715.00" y="722.60" width="2.8" height="2.8" fill="#fff" stroke="#555" stroke-width="1"/>
<line x1="724.50" y1="708.00" x2="724.50" y2="720.00" stroke="#707070" stroke-width="1"/>
<rect x="723.10" y="712.00" width="2.8" height="2.8" fill="#fff" stroke="#555" stroke-width="1"/>
<line x1="732.50" y1="675.20" x2="732.50" y2="708.80" stroke="#707070" stroke-width="1"/>
<rect x="731.50" y="675.80" width="2.8" height="2.8" fill="#fff" stroke="#555" stroke-width="1"/>
<line x1="741.50" y1="717.20" x2="741.50" y2="751.50" stroke="#707070" stroke-width="1"/>
<rect x="740.20" y="730.30" width="2.8" height="2.8" fill="#fff" stroke="#555" stroke-width="1"/>
<line x1="750.50" y1="719.00" x2="750.50" y2="733.20" stroke="#707070" stroke-width="1"/>
<rect x="749.10" y="724.20" width="2.8" height="2.8" fill="#fff" stroke="#555" stroke-width="1"/>
<line x1="759.50" y1="719.70" x2="759.50" y2="748.50" stroke="#707070" stroke-width="1"/>
<rect x="758.00" y="730.50" width="2.8" height="2.8" fill="#fff" stroke="#555" stroke-width="1"/>
<line x1="768.50" y1="679.00" x2="768.50" y2="738.80" stroke="#707070" stroke-width="1"/>
<rect x="767.10" y="700.00" width="2.8" height="2.8" fill="#fff" stroke="#555" stroke-width="1"/>
<line x1="778.50" y1="703.70" x2="778.50" y2="737.00" stroke="#707070" stroke-width="1"/>
<rect x="776.60" y="716.30" width="2.8" height="2.8" fill="#fff" stroke="#555" stroke-width="1"/>
<line x1="787.50" y1="712.00" x2="787.50" y2="746.40" stroke="#707070" stroke-width="1"/>
<rect x="786.00" y="725.40" width="2.8" height="2.8" fill="#fff" stroke="#555" stroke-width="1"/>
<line x1="797.50" y1="672.60" x2="797.50" y2="779.00" stroke="#707070" stroke-width="1"/>
<line x1="806.50" y1="737.00" x2="806.50" y2="779.00" stroke="#707070" stroke-width="1"/>
<rect x="805.30" y="752.60" width="2.8" height="2.8" fill="#fff" stroke="#555" stroke-width="1"/>
<line x1="816.50" y1="672.60" x2="816.50" y2="779.00" stroke="#707070" stroke-width="1"/>
<rect x="815.50" y="694.10" width="2.8" height="2.8" fill="#fff" stroke="#555" stroke-width="1"/>
<line x1="827.50" y1="672.60" x2="827.50" y2="779.00" stroke="#707070" stroke-width="1"/>
<rect x="825.70" y="687.30" width="2.8" height="2.8" fill="#fff" stroke="#555" stroke-width="1"/>
<line x1="837.50" y1="730.60" x2="837.50" y2="773.10" stroke="#707070" stroke-width="1"/>
<rect x="836.40" y="746.30" width="2.8" height="2.8" fill="#fff" stroke="#555" stroke-width="1"/>
<line x1="848.50" y1="672.60" x2="848.50" y2="779.00" stroke="#707070" stroke-width="1"/>
<rect x="847.10" y="711.40" width="2.8" height="2.8" fill="#fff" stroke="#555" stroke-width="1"/>
<line x1="859.50" y1="672.60" x2="859.50" y2="724.00" stroke="#707070" stroke-width="1"/>
<rect x="858.00" y="686.50" width="2.8" height="2.8" fill="#fff" stroke="#555" stroke-width="1"/>
<line x1="870.50" y1="768.80" x2="870.50" y2="779.00" stroke="#707070" stroke-width="1"/>
<rect x="868.90" y="777.60" width="2.8" height="2.8" fill="#fff" stroke="#555" stroke-width="1"/>
<line x1="881.50" y1="762.20" x2="881.50" y2="779.00" stroke="#707070" stroke-width="1"/>
<rect x="880.40" y="775.60" width="2.8" height="2.8" fill="#fff" stroke="#555" stroke-width="1"/>
<line x1="893.50" y1="672.60" x2="893.50" y2="779.00" stroke="#707070" stroke-width="1"/>
<rect x="891.80" y="708.10" width="2.8" height="2.8" fill="#fff" stroke="#555" stroke-width="1"/>
<line x1="905.50" y1="672.60" x2="905.50" y2="779.00" stroke="#707070" stroke-width="1"/>
<rect x="903.80" y="708.10" width="2.8" height="2.8" fill="#fff" stroke="#555" stroke-width="1"/>
<line x1="917.50" y1="672.60" x2="917.50" y2="779.00" stroke="#707070" stroke-width="1"/>
<rect x="916.00" y="675.60" width="2.8" height="2.8" fill="#fff" stroke="#555" stroke-width="1"/>
<line x1="929.50" y1="734.20" x2="929.50" y2="779.00" stroke="#707070" stroke-width="1"/>
<rect x="928.50" y="750.60" width="2.8" height="2.8" fill="#fff" stroke="#555" stroke-width="1"/>
<line x1="942.50" y1="754.60" x2="942.50" y2="779.00" stroke="#707070" stroke-width="1"/>
<rect x="940.70" y="770.00" width="2.8" height="2.8" fill="#fff" stroke="#555" stroke-width="1"/>
</g>
<clipPath id="ci"><rect x="745.5" y="212.4" width="265.79999999999995" height="212.20000000000002"/></clipPath>
<g clip-path="url(#ci)">
<rect x="747.84" y="313.80" width="3.3" height="3.3" fill="none" stroke="#999" stroke-width="1"/>
<rect x="748.61" y="313.84" width="3.3" height="3.3" fill="none" stroke="#999" stroke-width="1"/>
<rect x="749.37" y="313.88" width="3.3" height="3.3" fill="none" stroke="#999" stroke-width="1"/>
<rect x="750.13" y="313.91" width="3.3" height="3.3" fill="none" stroke="#999" stroke-width="1"/>
<rect x="750.89" y="313.95" width="3.3" height="3.3" fill="none" stroke="#999" stroke-width="1"/>
<rect x="751.65" y="314.00" width="3.3" height="3.3" fill="none" stroke="#999" stroke-width="1"/>
<rect x="752.42" y="314.04" width="3.3" height="3.3" fill="none" stroke="#999" stroke-width="1"/>
<rect x="753.18" y="314.09" width="3.3" height="3.3" fill="none" stroke="#999" stroke-width="1"/>
<rect x="753.94" y="314.13" width="3.3" height="3.3" fill="none" stroke="#999" stroke-width="1"/>
<rect x="754.70" y="314.18" width="3.3" height="3.3" fill="none" stroke="#999" stroke-width="1"/>
<rect x="755.46" y="314.23" width="3.3" height="3.3" fill="none" stroke="#999" stroke-width="1"/>
<rect x="756.23" y="314.28" width="3.3" height="3.3" fill="none" stroke="#999" stroke-width="1"/>
<rect x="756.99" y="314.33" width="3.3" height="3.3" fill="none" stroke="#999" stroke-width="1"/>
<rect x="757.75" y="314.38" width="3.3" height="3.3" fill="none" stroke="#999" stroke-width="1"/>
<rect x="758.51" y="314.43" width="3.3" height="3.3" fill="none" stroke="#999" stroke-width="1"/>
<rect x="759.27" y="314.49" width="3.3" height="3.3" fill="none" stroke="#999" stroke-width="1"/>
<rect x="760.03" y="314.54" width="3.3" height="3.3" fill="none" stroke="#999" stroke-width="1"/>
<rect x="760.80" y="314.59" width="3.3" height="3.3" fill="none" stroke="#999" stroke-width="1"/>
<rect x="761.56" y="314.65" width="3.3" height="3.3" fill="none" stroke="#999" stroke-width="1"/>
<rect x="762.32" y="314.70" width="3.3" height="3.3" fill="none" stroke="#999" stroke-width="1"/>
<rect x="763.08" y="314.76" width="3.3" height="3.3" fill="none" stroke="#999" stroke-width="1"/>
<rect x="763.84" y="314.81" width="3.3" height="3.3" fill="none" stroke="#999" stroke-width="1"/>
<rect x="764.61" y="314.87" width="3.3" height="3.3" fill="none" stroke="#999" stroke-width="1"/>
<rect x="765.37" y="314.93" width="3.3" height="3.3" fill="none" stroke="#999" stroke-width="1"/>
<rect x="766.13" y="314.99" width="3.3" height="3.3" fill="none" stroke="#999" stroke-width="1"/>
<rect x="766.89" y="315.04" width="3.3" height="3.3" fill="none" stroke="#999" stroke-width="1"/>
<rect x="767.65" y="315.10" width="3.3" height="3.3" fill="none" stroke="#999" stroke-width="1"/>
<rect x="768.42" y="315.16" width="3.3" height="3.3" fill="none" stroke="#999" stroke-width="1"/>
<rect x="769.18" y="315.21" width="3.3" height="3.3" fill="none" stroke="#999" stroke-width="1"/>
<rect x="769.94" y="315.27" width="3.3" height="3.3" fill="none" stroke="#999" stroke-width="1"/>
<rect x="770.70" y="315.33" width="3.3" height="3.3" fill="none" stroke="#999" stroke-width="1"/>
<rect x="771.46" y="315.39" width="3.3" height="3.3" fill="none" stroke="#999" stroke-width="1"/>
<rect x="772.23" y="315.45" width="3.3" height="3.3" fill="none" stroke="#999" stroke-width="1"/>
<rect x="772.99" y="315.50" width="3.3" height="3.3" fill="none" stroke="#999" stroke-width="1"/>
<rect x="773.75" y="315.56" width="3.3" height="3.3" fill="none" stroke="#999" stroke-width="1"/>
<rect x="774.51" y="315.62" width="3.3" height="3.3" fill="none" stroke="#999" stroke-width="1"/>
<rect x="775.27" y="315.68" width="3.3" height="3.3" fill="none" stroke="#999" stroke-width="1"/>
<rect x="776.04" y="315.73" width="3.3" height="3.3" fill="none" stroke="#999" stroke-width="1"/>
<rect x="776.80" y="315.79" width="3.3" height="3.3" fill="none" stroke="#999" stroke-width="1"/>
<rect x="777.56" y="315.85" width="3.3" height="3.3" fill="none" stroke="#999" stroke-width="1"/>
<rect x="778.32" y="315.91" width="3.3" height="3.3" fill="none" stroke="#999" stroke-width="1"/>
<rect x="779.08" y="315.96" width="3.3" height="3.3" fill="none" stroke="#999" stroke-width="1"/>
<rect x="779.85" y="316.02" width="3.3" height="3.3" fill="none" stroke="#999" stroke-width="1"/>
<rect x="780.61" y="316.07" width="3.3" height="3.3" fill="none" stroke="#999" stroke-width="1"/>
<rect x="781.37" y="316.13" width="3.3" height="3.3" fill="none" stroke="#999" stroke-width="1"/>
<rect x="782.13" y="316.18" width="3.3" height="3.3" fill="none" stroke="#999" stroke-width="1"/>
<rect x="782.89" y="316.24" width="3.3" height="3.3" fill="none" stroke="#999" stroke-width="1"/>
<rect x="783.66" y="316.29" width="3.3" height="3.3" fill="none" stroke="#999" stroke-width="1"/>
<rect x="784.42" y="316.35" width="3.3" height="3.3" fill="none" stroke="#999" stroke-width="1"/>
<rect x="785.18" y="316.40" width="3.3" height="3.3" fill="none" stroke="#999" stroke-width="1"/>
<rect x="785.94" y="316.46" width="3.3" height="3.3" fill="none" stroke="#999" stroke-width="1"/>
<rect x="786.70" y="316.52" width="3.3" height="3.3" fill="none" stroke="#999" stroke-width="1"/>
<rect x="787.47" y="316.58" width="3.3" height="3.3" fill="none" stroke="#999" stroke-width="1"/>
<rect x="788.23" y="316.63" width="3.3" height="3.3" fill="none" stroke="#999" stroke-width="1"/>
<rect x="788.99" y="316.69" width="3.3" height="3.3" fill="none" stroke="#999" stroke-width="1"/>
<rect x="789.75" y="316.75" width="3.3" height="3.3" fill="none" stroke="#999" stroke-width="1"/>
<rect x="790.51" y="316.81" width="3.3" height="3.3" fill="none" stroke="#999" stroke-width="1"/>
<rect x="791.28" y="316.87" width="3.3" height="3.3" fill="none" stroke="#999" stroke-width="1"/>
<rect x="792.04" y="316.93" width="3.3" height="3.3" fill="none" stroke="#999" stroke-width="1"/>
<rect x="792.80" y="316.99" width="3.3" height="3.3" fill="none" stroke="#999" stroke-width="1"/>
<rect x="793.56" y="317.05" width="3.3" height="3.3" fill="none" stroke="#999" stroke-width="1"/>
<rect x="794.32" y="317.12" width="3.3" height="3.3" fill="none" stroke="#999" stroke-width="1"/>
<rect x="795.09" y="317.18" width="3.3" height="3.3" fill="none" stroke="#999" stroke-width="1"/>
<rect x="795.85" y="317.25" width="3.3" height="3.3" fill="none" stroke="#999" stroke-width="1"/>
<rect x="796.61" y="317.32" width="3.3" height="3.3" fill="none" stroke="#999" stroke-width="1"/>
<rect x="797.37" y="317.38" width="3.3" height="3.3" fill="none" stroke="#999" stroke-width="1"/>
<rect x="798.13" y="317.45" width="3.3" height="3.3" fill="none" stroke="#999" stroke-width="1"/>
<rect x="798.90" y="317.52" width="3.3" height="3.3" fill="none" stroke="#999" stroke-width="1"/>
<rect x="799.66" y="317.60" width="3.3" height="3.3" fill="none" stroke="#999" stroke-width="1"/>
<rect x="800.42" y="317.67" width="3.3" height="3.3" fill="none" stroke="#999" stroke-width="1"/>
<rect x="801.18" y="317.74" width="3.3" height="3.3" fill="none" stroke="#999" stroke-width="1"/>
<rect x="801.94" y="317.82" width="3.3" height="3.3" fill="none" stroke="#999" stroke-width="1"/>
<rect x="802.71" y="317.90" width="3.3" height="3.3" fill="none" stroke="#999" stroke-width="1"/>
<rect x="803.47" y="317.98" width="3.3" height="3.3" fill="none" stroke="#999" stroke-width="1"/>
<rect x="804.23" y="318.06" width="3.3" height="3.3" fill="none" stroke="#999" stroke-width="1"/>
<rect x="804.99" y="318.15" width="3.3" height="3.3" fill="none" stroke="#999" stroke-width="1"/>
<rect x="805.75" y="318.24" width="3.3" height="3.3" fill="none" stroke="#999" stroke-width="1"/>
<rect x="806.52" y="318.33" width="3.3" height="3.3" fill="none" stroke="#999" stroke-width="1"/>
<rect x="807.28" y="318.42" width="3.3" height="3.3" fill="none" stroke="#999" stroke-width="1"/>
<rect x="808.04" y="318.52" width="3.3" height="3.3" fill="none" stroke="#999" stroke-width="1"/>
<rect x="808.80" y="318.62" width="3.3" height="3.3" fill="none" stroke="#999" stroke-width="1"/>
<rect x="809.56" y="318.72" width="3.3" height="3.3" fill="none" stroke="#999" stroke-width="1"/>
<rect x="810.33" y="318.82" width="3.3" height="3.3" fill="none" stroke="#999" stroke-width="1"/>
<rect x="811.09" y="318.93" width="3.3" height="3.3" fill="none" stroke="#999" stroke-width="1"/>
<rect x="811.85" y="319.04" width="3.3" height="3.3" fill="none" stroke="#999" stroke-width="1"/>
<rect x="812.61" y="319.15" width="3.3" height="3.3" fill="none" stroke="#999" stroke-width="1"/>
<rect x="813.37" y="319.27" width="3.3" height="3.3" fill="none" stroke="#999" stroke-width="1"/>
<rect x="814.14" y="319.39" width="3.3" height="3.3" fill="none" stroke="#999" stroke-width="1"/>
<rect x="814.90" y="319.51" width="3.3" height="3.3" fill="none" stroke="#999" stroke-width="1"/>
<rect x="815.66" y="319.63" width="3.3" height="3.3" fill="none" stroke="#999" stroke-width="1"/>
<rect x="816.42" y="319.76" width="3.3" height="3.3" fill="none" stroke="#999" stroke-width="1"/>
<rect x="817.18" y="319.89" width="3.3" height="3.3" fill="none" stroke="#999" stroke-width="1"/>
<rect x="817.95" y="320.02" width="3.3" height="3.3" fill="none" stroke="#999" stroke-width="1"/>
<rect x="818.71" y="320.15" width="3.3" height="3.3" fill="none" stroke="#999" stroke-width="1"/>
<rect x="819.47" y="320.29" width="3.3" height="3.3" fill="none" stroke="#999" stroke-width="1"/>
<rect x="820.23" y="320.43" width="3.3" height="3.3" fill="none" stroke="#999" stroke-width="1"/>
<rect x="820.99" y="320.58" width="3.3" height="3.3" fill="none" stroke="#999" stroke-width="1"/>
<rect x="821.75" y="320.73" width="3.3" height="3.3" fill="none" stroke="#999" stroke-width="1"/>
<rect x="822.52" y="320.88" width="3.3" height="3.3" fill="none" stroke="#999" stroke-width="1"/>
<rect x="823.28" y="321.04" width="3.3" height="3.3" fill="none" stroke="#999" stroke-width="1"/>
<rect x="824.04" y="321.20" width="3.3" height="3.3" fill="none" stroke="#999" stroke-width="1"/>
<rect x="824.80" y="321.38" width="3.3" height="3.3" fill="none" stroke="#999" stroke-width="1"/>
<rect x="825.56" y="321.56" width="3.3" height="3.3" fill="none" stroke="#999" stroke-width="1"/>
<rect x="826.33" y="321.75" width="3.3" height="3.3" fill="none" stroke="#999" stroke-width="1"/>
<rect x="827.09" y="322.00" width="3.3" height="3.3" fill="none" stroke="#999" stroke-width="1"/>
<rect x="827.85" y="322.36" width="3.3" height="3.3" fill="none" stroke="#999" stroke-width="1"/>
<rect x="828.61" y="322.67" width="3.3" height="3.3" fill="none" stroke="#999" stroke-width="1"/>
<rect x="829.37" y="322.96" width="3.3" height="3.3" fill="none" stroke="#999" stroke-width="1"/>
<rect x="830.14" y="323.27" width="3.3" height="3.3" fill="none" stroke="#999" stroke-width="1"/>
<rect x="830.90" y="323.58" width="3.3" height="3.3" fill="none" stroke="#999" stroke-width="1"/>
<rect x="831.66" y="323.90" width="3.3" height="3.3" fill="none" stroke="#999" stroke-width="1"/>
<rect x="832.42" y="324.23" width="3.3" height="3.3" fill="none" stroke="#999" stroke-width="1"/>
<rect x="833.18" y="324.56" width="3.3" height="3.3" fill="none" stroke="#999" stroke-width="1"/>
<rect x="833.95" y="324.90" width="3.3" height="3.3" fill="none" stroke="#999" stroke-width="1"/>
<rect x="834.71" y="325.25" width="3.3" height="3.3" fill="none" stroke="#999" stroke-width="1"/>
<rect x="835.47" y="325.60" width="3.3" height="3.3" fill="none" stroke="#999" stroke-width="1"/>
<rect x="836.23" y="325.97" width="3.3" height="3.3" fill="none" stroke="#999" stroke-width="1"/>
<rect x="836.99" y="326.34" width="3.3" height="3.3" fill="none" stroke="#999" stroke-width="1"/>
<rect x="837.76" y="326.74" width="3.3" height="3.3" fill="none" stroke="#999" stroke-width="1"/>
<rect x="838.52" y="327.17" width="3.3" height="3.3" fill="none" stroke="#999" stroke-width="1"/>
<rect x="839.28" y="327.57" width="3.3" height="3.3" fill="none" stroke="#999" stroke-width="1"/>
<rect x="840.04" y="327.95" width="3.3" height="3.3" fill="none" stroke="#999" stroke-width="1"/>
<rect x="840.80" y="328.33" width="3.3" height="3.3" fill="none" stroke="#999" stroke-width="1"/>
<rect x="841.57" y="328.72" width="3.3" height="3.3" fill="none" stroke="#999" stroke-width="1"/>
<rect x="842.33" y="329.11" width="3.3" height="3.3" fill="none" stroke="#999" stroke-width="1"/>
<rect x="843.09" y="329.50" width="3.3" height="3.3" fill="none" stroke="#999" stroke-width="1"/>
<rect x="843.85" y="329.90" width="3.3" height="3.3" fill="none" stroke="#999" stroke-width="1"/>
<rect x="844.61" y="330.31" width="3.3" height="3.3" fill="none" stroke="#999" stroke-width="1"/>
<rect x="845.38" y="330.71" width="3.3" height="3.3" fill="none" stroke="#999" stroke-width="1"/>
<rect x="846.14" y="331.11" width="3.3" height="3.3" fill="none" stroke="#999" stroke-width="1"/>
<rect x="846.90" y="331.42" width="3.3" height="3.3" fill="none" stroke="#999" stroke-width="1"/>
<rect x="847.66" y="331.71" width="3.3" height="3.3" fill="none" stroke="#999" stroke-width="1"/>
<rect x="848.42" y="332.01" width="3.3" height="3.3" fill="none" stroke="#999" stroke-width="1"/>
<rect x="849.19" y="332.32" width="3.3" height="3.3" fill="none" stroke="#999" stroke-width="1"/>
<rect x="849.95" y="332.63" width="3.3" height="3.3" fill="none" stroke="#999" stroke-width="1"/>
<rect x="850.71" y="332.95" width="3.3" height="3.3" fill="none" stroke="#999" stroke-width="1"/>
<rect x="851.47" y="333.26" width="3.3" height="3.3" fill="none" stroke="#999" stroke-width="1"/>
<rect x="852.23" y="333.58" width="3.3" height="3.3" fill="none" stroke="#999" stroke-width="1"/>
<rect x="853.00" y="333.90" width="3.3" height="3.3" fill="none" stroke="#999" stroke-width="1"/>
<rect x="853.76" y="334.21" width="3.3" height="3.3" fill="none" stroke="#999" stroke-width="1"/>
<rect x="854.52" y="334.52" width="3.3" height="3.3" fill="none" stroke="#999" stroke-width="1"/>
<rect x="855.28" y="334.83" width="3.3" height="3.3" fill="none" stroke="#999" stroke-width="1"/>
<rect x="856.04" y="335.14" width="3.3" height="3.3" fill="none" stroke="#999" stroke-width="1"/>
<rect x="856.81" y="335.46" width="3.3" height="3.3" fill="none" stroke="#999" stroke-width="1"/>
<rect x="857.57" y="335.77" width="3.3" height="3.3" fill="none" stroke="#999" stroke-width="1"/>
<rect x="858.33" y="336.09" width="3.3" height="3.3" fill="none" stroke="#999" stroke-width="1"/>
<rect x="859.09" y="336.40" width="3.3" height="3.3" fill="none" stroke="#999" stroke-width="1"/>
<rect x="859.85" y="336.70" width="3.3" height="3.3" fill="none" stroke="#999" stroke-width="1"/>
<rect x="860.62" y="337.01" width="3.3" height="3.3" fill="none" stroke="#999" stroke-width="1"/>
<rect x="861.38" y="337.36" width="3.3" height="3.3" fill="none" stroke="#999" stroke-width="1"/>
<rect x="862.14" y="337.76" width="3.3" height="3.3" fill="none" stroke="#999" stroke-width="1"/>
<rect x="862.90" y="338.18" width="3.3" height="3.3" fill="none" stroke="#999" stroke-width="1"/>
<rect x="863.66" y="338.62" width="3.3" height="3.3" fill="none" stroke="#999" stroke-width="1"/>
<rect x="864.43" y="339.06" width="3.3" height="3.3" fill="none" stroke="#999" stroke-width="1"/>
<rect x="865.19" y="339.49" width="3.3" height="3.3" fill="none" stroke="#999" stroke-width="1"/>
<rect x="865.95" y="339.93" width="3.3" height="3.3" fill="none" stroke="#999" stroke-width="1"/>
<rect x="866.71" y="340.38" width="3.3" height="3.3" fill="none" stroke="#999" stroke-width="1"/>
<rect x="867.47" y="340.84" width="3.3" height="3.3" fill="none" stroke="#999" stroke-width="1"/>
<rect x="868.24" y="341.12" width="3.3" height="3.3" fill="none" stroke="#999" stroke-width="1"/>
<rect x="869.26" y="342.09" width="3.3" height="3.3" fill="none" stroke="#999" stroke-width="1"/>
<rect x="870.12" y="342.92" width="3.3" height="3.3" fill="none" stroke="#999" stroke-width="1"/>
<rect x="870.94" y="343.72" width="3.3" height="3.3" fill="none" stroke="#999" stroke-width="1"/>
<rect x="871.75" y="344.33" width="3.3" height="3.3" fill="none" stroke="#999" stroke-width="1"/>
<rect x="872.56" y="344.99" width="3.3" height="3.3" fill="none" stroke="#999" stroke-width="1"/>
<rect x="873.33" y="345.43" width="3.3" height="3.3" fill="none" stroke="#999" stroke-width="1"/>
<rect x="874.08" y="345.83" width="3.3" height="3.3" fill="none" stroke="#999" stroke-width="1"/>
<rect x="874.68" y="346.27" width="3.3" height="3.3" fill="none" stroke="#999" stroke-width="1"/>
<rect x="875.43" y="346.71" width="3.3" height="3.3" fill="none" stroke="#999" stroke-width="1"/>
<rect x="876.15" y="347.11" width="3.3" height="3.3" fill="none" stroke="#999" stroke-width="1"/>
<rect x="876.87" y="347.55" width="3.3" height="3.3" fill="none" stroke="#999" stroke-width="1"/>
<rect x="877.56" y="348.16" width="3.3" height="3.3" fill="none" stroke="#999" stroke-width="1"/>
<rect x="878.39" y="349.00" width="3.3" height="3.3" fill="none" stroke="#999" stroke-width="1"/>
<rect x="879.18" y="349.66" width="3.3" height="3.3" fill="none" stroke="#999" stroke-width="1"/>
<rect x="879.97" y="350.94" width="3.3" height="3.3" fill="none" stroke="#999" stroke-width="1"/>
<rect x="880.73" y="351.69" width="3.3" height="3.3" fill="none" stroke="#999" stroke-width="1"/>
<rect x="881.44" y="353.49" width="3.3" height="3.3" fill="none" stroke="#999" stroke-width="1"/>
<rect x="882.19" y="355.04" width="3.3" height="3.3" fill="none" stroke="#999" stroke-width="1"/>
<rect x="882.91" y="356.18" width="3.3" height="3.3" fill="none" stroke="#999" stroke-width="1"/>
<rect x="883.63" y="357.33" width="3.3" height="3.3" fill="none" stroke="#999" stroke-width="1"/>
<rect x="884.43" y="358.12" width="3.3" height="3.3" fill="none" stroke="#999" stroke-width="1"/>
<rect x="885.18" y="358.74" width="3.3" height="3.3" fill="none" stroke="#999" stroke-width="1"/>
<rect x="885.96" y="359.92" width="3.3" height="3.3" fill="none" stroke="#999" stroke-width="1"/>
<rect x="886.73" y="360.54" width="3.3" height="3.3" fill="none" stroke="#999" stroke-width="1"/>
<rect x="887.48" y="360.67" width="3.3" height="3.3" fill="none" stroke="#999" stroke-width="1"/>
<rect x="888.27" y="360.67" width="3.3" height="3.3" fill="none" stroke="#999" stroke-width="1"/>
<rect x="889.05" y="362.48" width="3.3" height="3.3" fill="none" stroke="#999" stroke-width="1"/>
<rect x="889.76" y="363.89" width="3.3" height="3.3" fill="none" stroke="#999" stroke-width="1"/>
<rect x="890.56" y="365.30" width="3.3" height="3.3" fill="none" stroke="#999" stroke-width="1"/>
<rect x="891.31" y="367.06" width="3.3" height="3.3" fill="none" stroke="#999" stroke-width="1"/>
<rect x="892.07" y="369.17" width="3.3" height="3.3" fill="none" stroke="#999" stroke-width="1"/>
<rect x="892.83" y="370.63" width="3.3" height="3.3" fill="none" stroke="#999" stroke-width="1"/>
<rect x="893.60" y="370.63" width="3.3" height="3.3" fill="none" stroke="#999" stroke-width="1"/>
<rect x="894.37" y="370.41" width="3.3" height="3.3" fill="none" stroke="#999" stroke-width="1"/>
<rect x="895.11" y="370.76" width="3.3" height="3.3" fill="none" stroke="#999" stroke-width="1"/>
<rect x="895.87" y="371.90" width="3.3" height="3.3" fill="none" stroke="#999" stroke-width="1"/>
<rect x="896.68" y="377.50" width="3.3" height="3.3" fill="none" stroke="#999" stroke-width="1"/>
<rect x="897.39" y="388.46" width="3.3" height="3.3" fill="none" stroke="#999" stroke-width="1"/>
<rect x="898.16" y="388.46" width="3.3" height="3.3" fill="none" stroke="#999" stroke-width="1"/>
<rect x="898.92" y="387.41" width="3.3" height="3.3" fill="none" stroke="#999" stroke-width="1"/>
<rect x="899.70" y="394.98" width="3.3" height="3.3" fill="none" stroke="#999" stroke-width="1"/>
<rect x="900.46" y="393.18" width="3.3" height="3.3" fill="none" stroke="#999" stroke-width="1"/>
<rect x="901.22" y="392.78" width="3.3" height="3.3" fill="none" stroke="#999" stroke-width="1"/>
<rect x="902.00" y="393.53" width="3.3" height="3.3" fill="none" stroke="#999" stroke-width="1"/>
<rect x="902.76" y="389.12" width="3.3" height="3.3" fill="none" stroke="#999" stroke-width="1"/>
<rect x="903.51" y="388.07" width="3.3" height="3.3" fill="none" stroke="#999" stroke-width="1"/>
<rect x="904.27" y="389.61" width="3.3" height="3.3" fill="none" stroke="#999" stroke-width="1"/>
<rect x="905.06" y="391.15" width="3.3" height="3.3" fill="none" stroke="#999" stroke-width="1"/>
<rect x="905.80" y="394.54" width="3.3" height="3.3" fill="none" stroke="#999" stroke-width="1"/>
<rect x="906.56" y="420.04" width="3.3" height="3.3" fill="none" stroke="#999" stroke-width="1"/>
<rect x="907.33" y="408.24" width="3.3" height="3.3" fill="none" stroke="#999" stroke-width="1"/>
<rect x="908.09" y="400.31" width="3.3" height="3.3" fill="none" stroke="#999" stroke-width="1"/>
<rect x="908.85" y="410.35" width="3.3" height="3.3" fill="none" stroke="#999" stroke-width="1"/>
<rect x="909.62" y="418.37" width="3.3" height="3.3" fill="none" stroke="#999" stroke-width="1"/>
<rect x="910.39" y="408.06" width="3.3" height="3.3" fill="none" stroke="#999" stroke-width="1"/>
<rect x="911.14" y="412.82" width="3.3" height="3.3" fill="none" stroke="#999" stroke-width="1"/>
<rect x="912.67" y="421.89" width="3.3" height="3.3" fill="none" stroke="#999" stroke-width="1"/>
<rect x="914.93" y="411.76" width="3.3" height="3.3" fill="none" stroke="#999" stroke-width="1"/>
<rect x="917.22" y="405.86" width="3.3" height="3.3" fill="none" stroke="#999" stroke-width="1"/>
<rect x="918.00" y="409.83" width="3.3" height="3.3" fill="none" stroke="#999" stroke-width="1"/>
<rect x="921.04" y="412.82" width="3.3" height="3.3" fill="none" stroke="#999" stroke-width="1"/>
<rect x="921.81" y="414.23" width="3.3" height="3.3" fill="none" stroke="#999" stroke-width="1"/>
<polyline points="749.72,321.32 756.68,321.57 764.47,321.91 772.09,322.32 779.06,322.77 785.22,323.25 790.50,323.74 795.36,324.26 800.06,324.85 804.40,325.45 808.26,326.06 811.58,326.63 814.30,327.13 816.48,327.56 818.30,327.92 819.88,328.24 821.32,328.56 822.71,328.90 824.12,329.29 825.54,329.73 826.90,330.20 828.22,330.68 829.50,331.18 830.74,331.67 831.93,332.15 833.10,332.62 834.22,333.08 835.32,333.53 836.38,333.99 837.42,334.45 838.43,334.93 839.38,335.41 840.26,335.89 841.13,336.38 842.01,336.88 842.95,337.39 843.98,337.92 845.12,338.48 846.34,339.06 847.59,339.66 848.82,340.25 849.99,340.84 851.07,341.40 852.05,341.94 852.98,342.47 853.87,342.99 854.73,343.50 855.57,344.00 856.40,344.49 857.23,344.95 858.04,345.40 858.83,345.84 859.61,346.27 860.37,346.72 861.12,347.17 861.85,347.64 862.56,348.11 863.26,348.59 863.95,349.08 864.62,349.57 865.29,350.08 865.95,350.60 866.59,351.12 867.23,351.66 867.86,352.20 868.47,352.75 869.08,353.29 869.69,353.87 870.32,354.47 870.94,355.07 871.52,355.65 872.05,356.19 872.50,356.64 872.86,357.00 873.13,357.27 873.35,357.50 873.56,357.70 873.81,357.92 874.12,358.18 874.51,358.48 874.94,358.78 875.40,359.09 875.87,359.43 876.34,359.78 876.78,360.16 877.21,360.58 877.63,361.01 878.05,361.47 878.47,361.95 878.88,362.46 879.29,362.98 879.69,363.52 880.08,364.07 880.47,364.65 880.86,365.25 881.24,365.90 881.62,366.60 882.00,367.37 882.37,368.23 882.74,369.12 883.10,370.02 883.46,370.88 883.82,371.66 884.18,372.36 884.53,373.03 884.88,373.65 885.22,374.23 885.56,374.79 885.90,375.32 886.24,375.81 886.58,376.26 886.91,376.68 887.24,377.07 887.57,377.45 887.89,377.83 888.22,378.16 888.53,378.45 888.85,378.72 889.16,379.01 889.47,379.35 889.77,379.76 890.08,380.27 890.38,380.85 890.68,381.47 890.98,382.12 891.27,382.78 891.56,383.42 891.87,384.10 892.21,384.85 892.54,385.61 892.84,386.31 893.09,386.91 893.27,387.34 894.11,389.59 894.93,390.73 896.50,392.40 897.58,394.17 898.99,408.74 900.53,411.92 901.35,423.23 902.15,418.39 902.87,417.07 903.65,422.57 904.41,416.85 905.16,416.50 905.97,419.54 906.47,424.60" fill="none" stroke="#e01c1c" stroke-width="0.7" stroke-linejoin="round" stroke-opacity="0.7"/>
<polyline points="749.72,338.23 759.10,338.48 769.15,338.81 778.43,339.21 786.44,339.65 793.08,340.09 798.39,340.52 802.80,340.94 806.78,341.39 810.40,341.84 813.71,342.29 816.75,342.73 819.57,343.16 822.18,343.58 824.62,343.97 826.92,344.37 829.08,344.76 831.13,345.15 833.08,345.54 834.95,345.95 836.72,346.37 838.42,346.78 840.05,347.19 841.62,347.59 843.12,347.96 844.58,348.32 846.02,348.65 847.40,348.97 848.71,349.28 849.94,349.57 851.07,349.86 852.09,350.13 853.03,350.39 853.91,350.63 854.75,350.87 855.58,351.11 856.40,351.36 857.23,351.60 858.04,351.85 858.83,352.09 859.61,352.33 860.37,352.57 861.12,352.81 861.85,353.05 862.56,353.29 863.26,353.52 863.95,353.76 864.62,353.99 865.29,354.22 865.93,354.43 866.53,354.62 867.13,354.80 867.74,355.01 868.38,355.24 869.08,355.54 869.85,355.91 870.67,356.34 871.51,356.80 872.35,357.28 873.15,357.75 873.88,358.18 874.57,358.60 875.25,359.01 875.89,359.41 876.50,359.79 877.04,360.15 877.52,360.47 877.91,360.75 878.21,360.99 878.47,361.19 878.72,361.39 878.98,361.60 879.29,361.84 879.65,362.10 880.03,362.36 880.43,362.64 880.83,362.92 881.23,363.21 881.62,363.51 882.00,363.83 882.37,364.16 882.74,364.50 883.10,364.84 883.46,365.18 883.82,365.49 884.18,365.79 884.53,366.08 884.88,366.37 885.22,366.64 885.56,366.91 885.90,367.17 886.24,367.42 886.58,367.67 886.91,367.91 887.24,368.14 887.57,368.36 887.89,368.58 888.22,368.77 888.53,368.96 888.85,369.13 889.16,369.30 889.47,369.48 889.77,369.68 890.08,369.88 890.38,370.09 890.68,370.30 890.98,370.53 891.27,370.79 891.56,371.09 891.87,371.46 892.21,371.90 892.54,372.36 892.84,372.81 893.09,373.20 893.27,373.47 894.93,375.71 896.50,377.43 897.58,378.44 898.99,386.06 900.44,387.56 901.35,395.62 902.87,389.89 903.65,392.14 904.41,390.77 905.16,390.38 905.81,391.48 906.68,394.30 907.45,394.83 908.21,409.63 908.96,413.15 909.74,402.84 910.50,414.73 911.27,414.29 912.04,408.57 912.79,415.17 913.08,424.60" fill="none" stroke="#1ee01e" stroke-width="0.7" stroke-linejoin="round" stroke-opacity="0.7"/>
<polyline points="916.03,424.60 916.58,420.02 916.97,424.60" fill="none" stroke="#1ee01e" stroke-width="0.7" stroke-linejoin="round" stroke-opacity="0.7"/>
<polyline points="917.81,424.60 918.13,417.82 918.71,424.60" fill="none" stroke="#1ee01e" stroke-width="0.7" stroke-linejoin="round" stroke-opacity="0.7"/>
<polyline points="922.53,424.60 922.69,422.66 922.89,424.60" fill="none" stroke="#1ee01e" stroke-width="0.7" stroke-linejoin="round" stroke-opacity="0.7"/>
<polyline points="749.72,315.86 754.45,316.05 759.39,316.30 764.86,316.60 770.99,316.97 777.74,317.41 784.97,317.93 792.82,318.55 800.69,319.27 807.88,320.07 814.11,320.91 819.29,321.76 823.40,322.60 826.70,323.44 829.58,324.31 832.12,325.19 834.41,326.07 836.49,326.93 838.43,327.75 840.19,328.54 841.78,329.32 843.24,330.07 844.63,330.80 845.97,331.50 847.30,332.15 848.56,332.75 849.73,333.28 850.88,333.77 852.04,334.27 853.29,334.79 854.65,335.37 856.17,336.02 857.80,336.72 859.47,337.46 861.08,338.19 862.57,338.90 863.90,339.55 865.04,340.14 866.06,340.66 867.01,341.16 867.94,341.67 868.88,342.22 869.89,342.86 870.97,343.60 872.10,344.43 873.24,345.31 874.34,346.19 875.38,347.03 876.33,347.79 877.20,348.44 878.02,349.01 878.79,349.54 879.51,350.08 880.19,350.65 880.83,351.31 881.40,352.07 881.90,352.89 882.36,353.76 882.82,354.65 883.30,355.53 883.84,356.38 884.45,357.24 885.11,358.16 885.79,359.06 886.46,359.91 887.07,360.65 887.61,361.22 888.06,361.58 888.45,361.74 888.80,361.80 889.13,361.83 889.45,361.90 889.77,362.10 890.10,362.43 890.41,362.83 890.71,363.28 891.01,363.75 891.30,364.25 891.59,364.75 891.90,365.29 892.23,365.91 892.55,366.54 892.85,367.14 893.10,367.64 893.27,368.00 894.93,370.51 896.50,371.66 897.52,372.72 898.38,378.13 898.99,382.49 900.28,383.86 900.61,384.52 901.35,392.93 902.87,387.21 903.65,389.59 904.49,387.21 905.16,387.43 905.97,388.88 906.68,392.27 907.45,393.07 908.21,408.08 908.96,411.25 909.74,401.52 910.50,413.41 911.27,413.24 912.04,407.69 912.79,414.47 913.08,424.60" fill="none" stroke="#111" stroke-width="1" stroke-linejoin="round" />
<polyline points="916.03,424.60 916.58,420.02 916.97,424.60" fill="none" stroke="#111" stroke-width="1" stroke-linejoin="round" />
<polyline points="917.71,424.60 918.13,416.94 919.25,424.60" fill="none" stroke="#111" stroke-width="1" stroke-linejoin="round" />
<polyline points="922.53,424.60 922.69,422.22 922.95,424.60" fill="none" stroke="#111" stroke-width="1" stroke-linejoin="round" />
</g>
</svg></body></html>
